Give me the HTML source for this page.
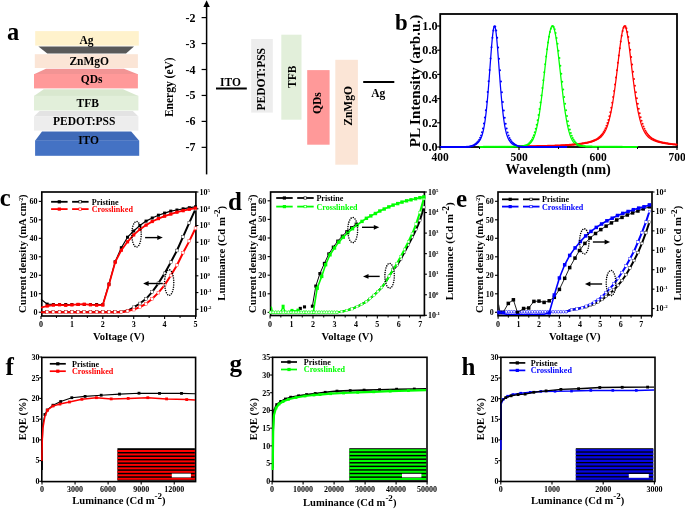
<!DOCTYPE html>
<html><head><meta charset="utf-8"><style>
html,body{margin:0;padding:0;background:#fff;width:685px;height:509px;overflow:hidden}
svg{display:block;will-change:transform}
text{font-family:"Liberation Serif",serif;font-weight:bold}
</style></head><body>
<svg width="685" height="509" viewBox="0 0 685 509">
<rect width="685" height="509" fill="#fff"/>
<text x="7.00" y="39.60" font-size="24.5" text-anchor="start" fill="#000" >a</text>
<rect x="35.20" y="31.10" width="103.60" height="14.50" fill="#FFF2CC" />
<polygon points="38.40,46.40 134.00,46.40 126.00,53.60 47.30,53.60" fill="#595959" />
<rect x="34.80" y="54.20" width="103.10" height="13.80" fill="#FBE5D6" />
<polygon points="46.00,68.70 124.00,68.70 137.90,74.30 34.00,74.30" fill="#F29494" />
<rect x="34.00" y="74.00" width="103.90" height="14.40" fill="#FF9999" />
<polygon points="43.70,89.30 123.00,89.30 138.40,96.00 34.00,96.00" fill="#D9E8CF" />
<rect x="34.00" y="95.80" width="104.40" height="14.70" fill="#E2EFDA" />
<polygon points="39.60,111.00 132.80,111.00 138.40,116.60 34.00,116.60" fill="#E3E3E3" />
<rect x="34.00" y="116.40" width="104.40" height="14.20" fill="#EDEDED" />
<polygon points="42.00,131.40 131.20,131.40 139.20,140.70 35.10,140.70" fill="#3F6AB8" />
<rect x="35.10" y="140.50" width="104.10" height="15.30" fill="#4472C4" />
<text x="86.50" y="43.80" font-size="11.5" text-anchor="middle" fill="#000" >Ag</text>
<text x="89.20" y="65.10" font-size="11.5" text-anchor="middle" fill="#000" >ZnMgO</text>
<text x="91.70" y="83.10" font-size="11.5" text-anchor="middle" fill="#000" >QDs</text>
<text x="87.80" y="106.50" font-size="11.5" text-anchor="middle" fill="#000" >TFB</text>
<text x="84.20" y="124.60" font-size="11.5" text-anchor="middle" fill="#000" >PEDOT:PSS</text>
<text x="88.60" y="144.30" font-size="11.5" text-anchor="middle" fill="#000" >ITO</text>
<line x1="206.60" y1="4.00" x2="206.60" y2="174.40" stroke="#000" stroke-width="1.5" />
<polygon points="206.60,0.30 203.40,7.00 209.80,7.00" fill="#000" />
<line x1="201.60" y1="17.60" x2="206.60" y2="17.60" stroke="#000" stroke-width="1.2" />
<text x="195.40" y="21.60" font-size="12" text-anchor="end" fill="#000" >-2</text>
<line x1="201.60" y1="43.55" x2="206.60" y2="43.55" stroke="#000" stroke-width="1.2" />
<text x="195.40" y="47.55" font-size="12" text-anchor="end" fill="#000" >-3</text>
<line x1="201.60" y1="69.50" x2="206.60" y2="69.50" stroke="#000" stroke-width="1.2" />
<text x="195.40" y="73.50" font-size="12" text-anchor="end" fill="#000" >-4</text>
<line x1="201.60" y1="95.45" x2="206.60" y2="95.45" stroke="#000" stroke-width="1.2" />
<text x="195.40" y="99.45" font-size="12" text-anchor="end" fill="#000" >-5</text>
<line x1="201.60" y1="121.40" x2="206.60" y2="121.40" stroke="#000" stroke-width="1.2" />
<text x="195.40" y="125.40" font-size="12" text-anchor="end" fill="#000" >-6</text>
<line x1="201.60" y1="147.35" x2="206.60" y2="147.35" stroke="#000" stroke-width="1.2" />
<text x="195.40" y="151.35" font-size="12" text-anchor="end" fill="#000" >-7</text>
<text x="172.80" y="87.20" font-size="11.5" text-anchor="middle" fill="#000" transform="rotate(-90 172.8 87.2)" >Energy (eV)</text>
<line x1="216.00" y1="88.50" x2="246.80" y2="88.50" stroke="#000" stroke-width="2" />
<text x="230.40" y="86.20" font-size="11.5" text-anchor="middle" fill="#000" >ITO</text>
<rect x="251.20" y="39.00" width="21.60" height="73.60" fill="#EDEDED" />
<rect x="281.30" y="34.70" width="20.20" height="85.00" fill="#E2EFDA" />
<rect x="307.20" y="70.10" width="22.40" height="74.60" fill="#FF9999" />
<rect x="335.30" y="59.80" width="22.60" height="104.90" fill="#FBE5D6" />
<text x="265.00" y="79.20" font-size="11.5" text-anchor="middle" fill="#000" transform="rotate(-90 265.0 79.2)" >PEDOT:PSS</text>
<text x="295.60" y="76.70" font-size="11.5" text-anchor="middle" fill="#000" transform="rotate(-90 295.6 76.7)" >TFB</text>
<text x="320.80" y="103.10" font-size="11.5" text-anchor="middle" fill="#000" transform="rotate(-90 320.8 103.1)" >QDs</text>
<text x="351.60" y="105.90" font-size="11.5" text-anchor="middle" fill="#000" transform="rotate(-90 351.6 105.9)" >ZnMgO</text>
<line x1="363.20" y1="82.00" x2="394.30" y2="82.00" stroke="#000" stroke-width="2" />
<text x="378.20" y="97.20" font-size="11.5" text-anchor="middle" fill="#000" >Ag</text>
<rect x="440.20" y="14.00" width="236.80" height="133.00" fill="none" stroke="#000" stroke-width="1.8"/>
<polyline points="519.00,146.47 519.50,146.46 520.00,146.46 520.50,146.45 521.00,146.45 521.50,146.44 522.00,146.43 522.50,146.43 523.00,146.42 523.50,146.42 524.00,146.41 524.50,146.41 525.00,146.40 525.50,146.39 526.00,146.39 526.50,146.38 527.00,146.38 527.50,146.37 528.00,146.36 528.50,146.36 529.00,146.35 529.50,146.34 530.00,146.34 530.50,146.33 531.00,146.32 531.50,146.31 532.00,146.31 532.50,146.30 533.00,146.29 533.50,146.28 534.00,146.28 534.50,146.27 535.00,146.26 535.50,146.25 536.00,146.24 536.50,146.24 537.00,146.23 537.50,146.22 538.00,146.21 538.50,146.20 539.00,146.19 539.50,146.18 540.00,146.17 540.50,146.16 541.00,146.15 541.50,146.14 542.00,146.13 542.50,146.12 543.00,146.11 543.50,146.10 544.00,146.09 544.50,146.08 545.00,146.07 545.50,146.05 546.00,146.04 546.50,146.03 547.00,146.02 547.50,146.00 548.00,145.99 548.50,145.98 549.00,145.97 549.50,145.95 550.00,145.94 550.50,145.92 551.00,145.91 551.50,145.89 552.00,145.88 552.50,145.86 553.00,145.85 553.50,145.83 554.00,145.82 554.50,145.80 555.00,145.78 555.50,145.77 556.00,145.75 556.50,145.73 557.00,145.71 557.50,145.69 558.00,145.67 558.50,145.65 559.00,145.63 559.50,145.61 560.00,145.59 560.50,145.57 561.00,145.55 561.50,145.52 562.00,145.50 562.50,145.48 563.00,145.45 563.50,145.43 564.00,145.40 564.50,145.38 565.00,145.35 565.50,145.32 566.00,145.30 566.50,145.27 567.00,145.24 567.50,145.21 568.00,145.18 568.50,145.14 569.00,145.11 569.50,145.08 570.00,145.04 570.50,145.01 571.00,144.97 571.50,144.94 572.00,144.90 572.50,144.86 573.00,144.82 573.50,144.78 574.00,144.73 574.50,144.69 575.00,144.65 575.50,144.60 576.00,144.55 576.50,144.50 577.00,144.45 577.50,144.40 578.00,144.34 578.50,144.29 579.00,144.23 579.50,144.17 580.00,144.11 580.50,144.05 581.00,143.98 581.50,143.92 582.00,143.85 582.50,143.78 583.00,143.70 583.50,143.62 584.00,143.55 584.50,143.46 585.00,143.38 585.50,143.29 586.00,143.20 586.50,143.10 587.00,143.01 587.50,142.90 588.00,142.80 588.50,142.69 589.00,142.57 589.50,142.45 590.00,142.33 590.50,142.20 591.00,142.06 591.50,141.92 592.00,141.78 592.50,141.62 593.00,141.46 593.50,141.29 594.00,141.11 594.50,140.92 595.00,140.72 595.50,140.51 596.00,140.29 596.50,140.05 597.00,139.79 597.50,139.52 598.00,139.23 598.50,138.92 599.00,138.59 599.50,138.23 600.00,137.84 600.50,137.42 601.00,136.96 601.50,136.47 602.00,135.93 602.50,135.34 603.00,134.70 603.50,134.00 604.00,133.24 604.50,132.40 605.00,131.49 605.50,130.50 606.00,129.41 606.50,128.23 607.00,126.94 607.50,125.54 608.00,124.02 608.50,122.38 609.00,120.60 609.50,118.68 610.00,116.61 610.50,114.40 611.00,112.02 611.50,109.49 612.00,106.79 612.50,103.93 613.00,100.91 613.50,97.73 614.00,94.38 614.50,90.89 615.00,87.24 615.50,83.47 616.00,79.57 616.50,75.57 617.00,71.48 617.50,67.33 618.00,63.15 618.50,58.96 619.00,54.82 619.50,50.75 620.00,46.81 620.50,43.04 621.00,39.52 621.50,36.28 622.00,33.39 622.50,30.91 623.00,28.90 623.50,27.38 624.00,26.41 624.50,26.01 625.00,26.18 625.50,26.93 626.00,28.23 626.50,30.05 627.00,32.35 627.50,35.08 628.00,38.18 628.50,41.60 629.00,45.28 629.50,49.15 630.00,53.18 630.50,57.30 631.00,61.47 631.50,65.66 632.00,69.83 632.50,73.94 633.00,77.98 633.50,81.92 634.00,85.75 634.50,89.45 635.00,93.00 635.50,96.41 636.00,99.66 636.50,102.75 637.00,105.67 637.50,108.43 638.00,111.03 638.50,113.46 639.00,115.74 639.50,117.87 640.00,119.85 640.50,121.68 641.00,123.38 641.50,124.95 642.00,126.39 642.50,127.73 643.00,128.95 643.50,130.07 644.00,131.10 644.50,132.05 645.00,132.91 645.50,133.70 646.00,134.43 646.50,135.09 647.00,135.70 647.50,136.26 648.00,136.77 648.50,137.24 649.00,137.68 649.50,138.08 650.00,138.45 650.50,138.79 651.00,139.11 651.50,139.41 652.00,139.69 652.50,139.95 653.00,140.19 653.50,140.42 654.00,140.64 654.50,140.84 655.00,141.03 655.50,141.22 656.00,141.39 656.50,141.56 657.00,141.71 657.50,141.86 658.00,142.01 658.50,142.15 659.00,142.28 659.50,142.40 660.00,142.53 660.50,142.64 661.00,142.75 661.50,142.86 662.00,142.97 662.50,143.06 663.00,143.16 663.50,143.25 664.00,143.34 664.50,143.43 665.00,143.51 665.50,143.59 666.00,143.67 666.50,143.75 667.00,143.82 667.50,143.89 668.00,143.96 668.50,144.02 669.00,144.09 669.50,144.15 670.00,144.21 670.50,144.27 671.00,144.32 671.50,144.38 672.00,144.43 672.50,144.48 673.00,144.53 673.50,144.58 674.00,144.63 674.50,144.67 675.00,144.72 675.50,144.76 676.00,144.80 676.50,144.84 677.00,144.88" fill="none" stroke="#FF0000" stroke-width="1.25" stroke-linejoin="round" />
<polyline points="479.50,146.90 480.00,146.90 480.50,146.90 481.00,146.89 481.50,146.89 482.00,146.89 482.50,146.89 483.00,146.89 483.50,146.89 484.00,146.89 484.50,146.88 485.00,146.88 485.50,146.88 486.00,146.88 486.50,146.88 487.00,146.87 487.50,146.87 488.00,146.87 488.50,146.87 489.00,146.87 489.50,146.87 490.00,146.86 490.50,146.86 491.00,146.86 491.50,146.86 492.00,146.85 492.50,146.85 493.00,146.85 493.50,146.85 494.00,146.84 494.50,146.84 495.00,146.84 495.50,146.84 496.00,146.83 496.50,146.83 497.00,146.83 497.50,146.82 498.00,146.82 498.50,146.82 499.00,146.81 499.50,146.81 500.00,146.81 500.50,146.80 501.00,146.80 501.50,146.80 502.00,146.79 502.50,146.79 503.00,146.78 503.50,146.78 504.00,146.78 504.50,146.77 505.00,146.77 505.50,146.76 506.00,146.76 506.50,146.75 507.00,146.75 507.50,146.74 508.00,146.74 508.50,146.73 509.00,146.72 509.50,146.72 510.00,146.71 510.50,146.70 511.00,146.70 511.50,146.69 512.00,146.68 512.50,146.67 513.00,146.67 513.50,146.66 514.00,146.65 514.50,146.64 515.00,146.63 515.50,146.62 516.00,146.61 516.50,146.60 517.00,146.59 517.50,146.57 518.00,146.56 518.50,146.54 519.00,146.53 519.50,146.51 520.00,146.48 520.50,146.46 521.00,146.43 521.50,146.40 522.00,146.37 522.50,146.33 523.00,146.28 523.50,146.22 524.00,146.16 524.50,146.08 525.00,145.99 525.50,145.89 526.00,145.76 526.50,145.62 527.00,145.45 527.50,145.25 528.00,145.02 528.50,144.74 529.00,144.43 529.50,144.06 530.00,143.64 530.50,143.15 531.00,142.59 531.50,141.95 532.00,141.22 532.50,140.39 533.00,139.44 533.50,138.38 534.00,137.19 534.50,135.86 535.00,134.37 535.50,132.73 536.00,130.91 536.50,128.92 537.00,126.73 537.50,124.36 538.00,121.78 538.50,119.01 539.00,116.03 539.50,112.85 540.00,109.47 540.50,105.90 541.00,102.15 541.50,98.23 542.00,94.16 542.50,89.95 543.00,85.63 543.50,81.22 544.00,76.75 544.50,72.25 545.00,67.75 545.50,63.29 546.00,58.91 546.50,54.65 547.00,50.54 547.50,46.63 548.00,42.95 548.50,39.55 549.00,36.45 549.50,33.71 550.00,31.34 550.50,29.38 551.00,27.85 551.50,26.77 552.00,26.15 552.50,26.01 553.00,26.34 553.50,27.14 554.00,28.40 554.50,30.11 555.00,32.24 555.50,34.76 556.00,37.65 556.50,40.87 557.00,44.39 557.50,48.17 558.00,52.16 558.50,56.34 559.00,60.65 559.50,65.07 560.00,69.55 560.50,74.05 561.00,78.54 561.50,82.99 562.00,87.37 562.50,91.65 563.00,95.81 563.50,99.82 564.00,103.68 564.50,107.35 565.00,110.85 565.50,114.15 566.00,117.25 566.50,120.14 567.00,122.84 567.50,125.33 568.00,127.63 568.50,129.74 569.00,131.66 569.50,133.41 570.00,134.99 570.50,136.41 571.00,137.68 571.50,138.82 572.00,139.84 572.50,140.73 573.00,141.52 573.50,142.22 574.00,142.83 574.50,143.36 575.00,143.82 575.50,144.22 576.00,144.56 576.50,144.86 577.00,145.11 577.50,145.33 578.00,145.52 578.50,145.68 579.00,145.81 579.50,145.93 580.00,146.03 580.50,146.11 581.00,146.18 581.50,146.25 582.00,146.30 582.50,146.34 583.00,146.38 583.50,146.42 584.00,146.44 584.50,146.47 585.00,146.49 585.50,146.51 586.00,146.53 586.50,146.55 587.00,146.56 587.50,146.58 588.00,146.59 588.50,146.60 589.00,146.61 589.50,146.62 590.00,146.63 590.50,146.64 591.00,146.65 591.50,146.66 592.00,146.67 592.50,146.68 593.00,146.69 593.50,146.69 594.00,146.70 594.50,146.71 595.00,146.71 595.50,146.72 596.00,146.73 596.50,146.73 597.00,146.74 597.50,146.74 598.00,146.75 598.50,146.75 599.00,146.76 599.50,146.76 600.00,146.77 600.50,146.77 601.00,146.78 601.50,146.78 602.00,146.79 602.50,146.79 603.00,146.79 603.50,146.80 604.00,146.80 604.50,146.81 605.00,146.81 605.50,146.81 606.00,146.82 606.50,146.82 607.00,146.82 607.50,146.83 608.00,146.83 608.50,146.83 609.00,146.83 609.50,146.84 610.00,146.84 610.50,146.84 611.00,146.85 611.50,146.85 612.00,146.85 612.50,146.85 613.00,146.85 613.50,146.86 614.00,146.86 614.50,146.86 615.00,146.86 615.50,146.87 616.00,146.87 616.50,146.87 617.00,146.87 617.50,146.87 618.00,146.88 618.50,146.88 619.00,146.88 619.50,146.88 620.00,146.88 620.50,146.88 621.00,146.89 621.50,146.89 622.00,146.89 622.50,146.89 623.00,146.89 623.50,146.89 624.00,146.90 624.50,146.90 625.00,146.90 625.50,146.90 626.00,146.90 626.50,146.90 627.00,146.90 627.50,146.90 628.00,146.91 628.50,146.91 629.00,146.91 629.50,146.91 630.00,146.91 630.50,146.91 631.00,146.91 631.50,146.91 632.00,146.92 632.50,146.92 633.00,146.92 633.50,146.92 634.00,146.92 634.50,146.92 635.00,146.92 635.50,146.92 636.00,146.92 636.50,146.92 637.00,146.92 637.50,146.93" fill="none" stroke="#00FF00" stroke-width="1.25" stroke-linejoin="round" />
<polyline points="440.00,147.00 440.50,147.00 441.00,147.00 441.50,147.00 442.01,147.00 442.51,147.00 443.01,147.00 443.51,147.00 444.01,147.00 444.51,147.00 445.02,147.00 445.52,147.00 446.02,147.00 446.52,147.00 447.02,147.00 447.52,147.00 448.03,147.00 448.53,147.00 449.03,147.00 449.53,147.00 450.03,147.00 450.53,147.00 451.03,147.00 451.54,147.00 452.04,147.00 452.54,147.00 453.04,147.00 453.54,147.00 454.04,147.00 454.55,147.00 455.05,147.00 455.55,147.00 456.05,147.00 456.55,147.00 457.05,147.00 457.56,147.00 458.06,147.00 458.56,147.00 459.06,147.00 459.56,147.00 460.06,147.00 460.57,147.00 461.07,147.00 461.57,147.00 462.07,147.00 462.57,147.00 463.07,147.00 463.57,146.99 464.08,146.99 464.58,146.99 465.08,146.98 465.58,146.97 466.08,146.96 466.58,146.95 467.09,146.93 467.59,146.90 468.09,146.87 468.59,146.83 469.09,146.79 469.59,146.73 470.10,146.66 470.60,146.58 471.10,146.48 471.60,146.37 472.10,146.24 472.60,146.09 473.10,145.93 473.61,145.73 474.11,145.52 474.61,145.28 475.11,145.01 475.61,144.72 476.11,144.39 476.62,144.02 477.12,143.61 477.62,143.16 478.12,142.65 478.62,142.08 479.12,141.43 479.63,140.70 480.13,139.86 480.63,138.89 481.13,137.78 481.63,136.50 482.13,135.01 482.63,133.29 483.14,131.31 483.64,129.04 484.14,126.43 484.64,123.47 485.14,120.12 485.64,116.37 486.15,112.19 486.65,107.57 487.15,102.53 487.65,97.08 488.15,91.24 488.65,85.06 489.16,78.59 489.66,71.92 490.16,65.15 490.66,58.39 491.16,51.79 491.66,45.54 492.17,39.81 492.67,34.83 493.17,30.79 493.67,27.90 494.17,26.30 494.67,26.08 495.17,27.26 495.68,29.77 496.18,33.47 496.68,38.18 497.18,43.70 497.68,49.81 498.18,56.32 498.69,63.04 499.19,69.83 499.69,76.54 500.19,83.08 500.69,89.36 501.19,95.31 501.70,100.89 502.20,106.06 502.70,110.80 503.20,115.12 503.70,119.00 504.20,122.48 504.70,125.56 505.21,128.27 505.71,130.64 506.21,132.71 506.71,134.50 507.21,136.06 507.71,137.40 508.22,138.56 508.72,139.57 509.22,140.45 509.72,141.21 510.22,141.89 510.72,142.48 511.23,143.01 511.73,143.48 512.23,143.90 512.73,144.28 513.23,144.62 513.73,144.92 514.23,145.20 514.74,145.45 515.24,145.67 515.74,145.87 516.24,146.04 516.74,146.20 517.24,146.33 517.75,146.45 518.25,146.55 518.75,146.64 519.25,146.71 519.75,146.77 520.25,146.82 520.76,146.86 521.26,146.89 521.76,146.92 522.26,146.94 522.76,146.96 523.26,146.97 523.77,146.98 524.27,146.98 524.77,146.99 525.27,146.99 525.77,147.00 526.27,147.00 526.77,147.00 527.28,147.00 527.78,147.00 528.28,147.00 528.78,147.00 529.28,147.00 529.78,147.00 530.29,147.00 530.79,147.00 531.29,147.00 531.79,147.00 532.29,147.00 532.79,147.00 533.30,147.00 533.80,147.00 534.30,147.00 534.80,147.00 535.30,147.00 535.80,147.00 536.30,147.00 536.81,147.00 537.31,147.00 537.81,147.00 538.31,147.00 538.81,147.00 539.31,147.00 539.82,147.00 540.32,147.00 540.82,147.00 541.32,147.00 541.82,147.00 542.32,147.00 542.83,147.00 543.33,147.00 543.83,147.00 544.33,147.00 544.83,147.00 545.33,147.00 545.83,147.00 546.34,147.00 546.84,147.00 547.34,147.00 547.84,147.00 548.34,147.00 548.84,147.00 549.35,147.00 549.85,147.00 550.35,147.00 550.85,147.00 551.35,147.00 551.85,147.00 552.36,147.00 552.86,147.00 553.36,147.00 553.86,147.00 554.36,147.00 554.86,147.00 555.37,147.00 555.87,147.00 556.37,147.00 556.87,147.00 557.37,147.00 557.87,147.00 558.37,147.00 558.88,147.00 559.38,147.00 559.88,147.00 560.38,147.00 560.88,147.00 561.38,147.00 561.89,147.00 562.39,147.00 562.89,147.00 563.39,147.00 563.89,147.00 564.39,147.00 564.90,147.00 565.40,147.00 565.90,147.00 566.40,147.00" fill="none" stroke="#0000FF" stroke-width="1.25" stroke-linejoin="round" />
<circle cx="519.30" cy="146.39" r="1.0" fill="#FF0000"/>
<circle cx="520.25" cy="146.38" r="1.0" fill="#FF0000"/>
<circle cx="521.20" cy="146.37" r="1.0" fill="#FF0000"/>
<circle cx="522.14" cy="146.36" r="1.0" fill="#FF0000"/>
<circle cx="523.09" cy="146.35" r="1.0" fill="#FF0000"/>
<circle cx="524.04" cy="146.33" r="1.0" fill="#FF0000"/>
<circle cx="524.99" cy="146.32" r="1.0" fill="#FF0000"/>
<circle cx="525.94" cy="146.31" r="1.0" fill="#FF0000"/>
<circle cx="526.88" cy="146.29" r="1.0" fill="#FF0000"/>
<circle cx="527.83" cy="146.28" r="1.0" fill="#FF0000"/>
<circle cx="528.78" cy="146.27" r="1.0" fill="#FF0000"/>
<circle cx="529.73" cy="146.25" r="1.0" fill="#FF0000"/>
<circle cx="530.68" cy="146.24" r="1.0" fill="#FF0000"/>
<circle cx="531.62" cy="146.22" r="1.0" fill="#FF0000"/>
<circle cx="532.57" cy="146.21" r="1.0" fill="#FF0000"/>
<circle cx="533.52" cy="146.19" r="1.0" fill="#FF0000"/>
<circle cx="534.47" cy="146.17" r="1.0" fill="#FF0000"/>
<circle cx="535.42" cy="146.15" r="1.0" fill="#FF0000"/>
<circle cx="536.36" cy="146.14" r="1.0" fill="#FF0000"/>
<circle cx="537.31" cy="146.12" r="1.0" fill="#FF0000"/>
<circle cx="538.26" cy="146.10" r="1.0" fill="#FF0000"/>
<circle cx="539.21" cy="146.08" r="1.0" fill="#FF0000"/>
<circle cx="540.16" cy="146.06" r="1.0" fill="#FF0000"/>
<circle cx="541.10" cy="146.04" r="1.0" fill="#FF0000"/>
<circle cx="542.05" cy="146.02" r="1.0" fill="#FF0000"/>
<circle cx="543.00" cy="145.99" r="1.0" fill="#FF0000"/>
<circle cx="543.95" cy="145.97" r="1.0" fill="#FF0000"/>
<circle cx="544.90" cy="145.95" r="1.0" fill="#FF0000"/>
<circle cx="545.84" cy="145.92" r="1.0" fill="#FF0000"/>
<circle cx="546.79" cy="145.89" r="1.0" fill="#FF0000"/>
<circle cx="547.74" cy="145.87" r="1.0" fill="#FF0000"/>
<circle cx="548.69" cy="145.84" r="1.0" fill="#FF0000"/>
<circle cx="549.64" cy="145.81" r="1.0" fill="#FF0000"/>
<circle cx="550.58" cy="145.78" r="1.0" fill="#FF0000"/>
<circle cx="551.53" cy="145.75" r="1.0" fill="#FF0000"/>
<circle cx="552.48" cy="145.72" r="1.0" fill="#FF0000"/>
<circle cx="553.43" cy="145.68" r="1.0" fill="#FF0000"/>
<circle cx="554.38" cy="145.65" r="1.0" fill="#FF0000"/>
<circle cx="555.32" cy="145.61" r="1.0" fill="#FF0000"/>
<circle cx="556.27" cy="145.58" r="1.0" fill="#FF0000"/>
<circle cx="557.22" cy="145.54" r="1.0" fill="#FF0000"/>
<circle cx="558.17" cy="145.50" r="1.0" fill="#FF0000"/>
<circle cx="559.12" cy="145.45" r="1.0" fill="#FF0000"/>
<circle cx="560.06" cy="145.41" r="1.0" fill="#FF0000"/>
<circle cx="561.01" cy="145.36" r="1.0" fill="#FF0000"/>
<circle cx="561.96" cy="145.31" r="1.0" fill="#FF0000"/>
<circle cx="562.91" cy="145.26" r="1.0" fill="#FF0000"/>
<circle cx="563.86" cy="145.21" r="1.0" fill="#FF0000"/>
<circle cx="564.80" cy="145.15" r="1.0" fill="#FF0000"/>
<circle cx="565.75" cy="145.10" r="1.0" fill="#FF0000"/>
<circle cx="566.70" cy="145.04" r="1.0" fill="#FF0000"/>
<circle cx="567.65" cy="144.97" r="1.0" fill="#FF0000"/>
<circle cx="568.60" cy="144.91" r="1.0" fill="#FF0000"/>
<circle cx="569.54" cy="144.84" r="1.0" fill="#FF0000"/>
<circle cx="570.49" cy="144.76" r="1.0" fill="#FF0000"/>
<circle cx="571.44" cy="144.68" r="1.0" fill="#FF0000"/>
<circle cx="572.39" cy="144.60" r="1.0" fill="#FF0000"/>
<circle cx="573.34" cy="144.52" r="1.0" fill="#FF0000"/>
<circle cx="574.28" cy="144.43" r="1.0" fill="#FF0000"/>
<circle cx="575.23" cy="144.33" r="1.0" fill="#FF0000"/>
<circle cx="576.18" cy="144.23" r="1.0" fill="#FF0000"/>
<circle cx="577.13" cy="144.13" r="1.0" fill="#FF0000"/>
<circle cx="578.08" cy="144.01" r="1.0" fill="#FF0000"/>
<circle cx="579.02" cy="143.89" r="1.0" fill="#FF0000"/>
<circle cx="579.97" cy="143.77" r="1.0" fill="#FF0000"/>
<circle cx="580.92" cy="143.63" r="1.0" fill="#FF0000"/>
<circle cx="581.87" cy="143.49" r="1.0" fill="#FF0000"/>
<circle cx="582.82" cy="143.34" r="1.0" fill="#FF0000"/>
<circle cx="583.76" cy="143.18" r="1.0" fill="#FF0000"/>
<circle cx="584.71" cy="143.01" r="1.0" fill="#FF0000"/>
<circle cx="585.66" cy="142.82" r="1.0" fill="#FF0000"/>
<circle cx="586.61" cy="142.63" r="1.0" fill="#FF0000"/>
<circle cx="587.56" cy="142.42" r="1.0" fill="#FF0000"/>
<circle cx="588.50" cy="142.19" r="1.0" fill="#FF0000"/>
<circle cx="589.45" cy="141.95" r="1.0" fill="#FF0000"/>
<circle cx="590.40" cy="141.68" r="1.0" fill="#FF0000"/>
<circle cx="591.35" cy="141.39" r="1.0" fill="#FF0000"/>
<circle cx="592.30" cy="141.08" r="1.0" fill="#FF0000"/>
<circle cx="593.24" cy="140.73" r="1.0" fill="#FF0000"/>
<circle cx="594.19" cy="140.35" r="1.0" fill="#FF0000"/>
<circle cx="595.14" cy="139.92" r="1.0" fill="#FF0000"/>
<circle cx="596.09" cy="139.45" r="1.0" fill="#FF0000"/>
<circle cx="597.04" cy="138.91" r="1.0" fill="#FF0000"/>
<circle cx="597.98" cy="138.30" r="1.0" fill="#FF0000"/>
<circle cx="598.93" cy="137.60" r="1.0" fill="#FF0000"/>
<circle cx="599.88" cy="136.79" r="1.0" fill="#FF0000"/>
<circle cx="600.83" cy="135.85" r="1.0" fill="#FF0000"/>
<circle cx="601.78" cy="134.76" r="1.0" fill="#FF0000"/>
<circle cx="602.72" cy="133.48" r="1.0" fill="#FF0000"/>
<circle cx="603.67" cy="131.99" r="1.0" fill="#FF0000"/>
<circle cx="604.62" cy="130.25" r="1.0" fill="#FF0000"/>
<circle cx="605.57" cy="128.21" r="1.0" fill="#FF0000"/>
<circle cx="606.52" cy="125.85" r="1.0" fill="#FF0000"/>
<circle cx="607.46" cy="123.11" r="1.0" fill="#FF0000"/>
<circle cx="608.41" cy="119.97" r="1.0" fill="#FF0000"/>
<circle cx="609.36" cy="116.37" r="1.0" fill="#FF0000"/>
<circle cx="610.31" cy="112.30" r="1.0" fill="#FF0000"/>
<circle cx="611.26" cy="107.73" r="1.0" fill="#FF0000"/>
<circle cx="612.20" cy="102.64" r="1.0" fill="#FF0000"/>
<circle cx="613.15" cy="97.04" r="1.0" fill="#FF0000"/>
<circle cx="614.10" cy="90.95" r="1.0" fill="#FF0000"/>
<circle cx="615.05" cy="84.39" r="1.0" fill="#FF0000"/>
<circle cx="616.00" cy="77.45" r="1.0" fill="#FF0000"/>
<circle cx="616.94" cy="70.21" r="1.0" fill="#FF0000"/>
<circle cx="617.89" cy="62.81" r="1.0" fill="#FF0000"/>
<circle cx="618.84" cy="55.41" r="1.0" fill="#FF0000"/>
<circle cx="619.79" cy="48.24" r="1.0" fill="#FF0000"/>
<circle cx="620.74" cy="41.58" r="1.0" fill="#FF0000"/>
<circle cx="621.68" cy="35.73" r="1.0" fill="#FF0000"/>
<circle cx="622.63" cy="31.02" r="1.0" fill="#FF0000"/>
<circle cx="623.58" cy="27.74" r="1.0" fill="#FF0000"/>
<circle cx="624.53" cy="26.14" r="1.0" fill="#FF0000"/>
<circle cx="625.48" cy="26.34" r="1.0" fill="#FF0000"/>
<circle cx="626.42" cy="28.31" r="1.0" fill="#FF0000"/>
<circle cx="627.37" cy="31.92" r="1.0" fill="#FF0000"/>
<circle cx="628.32" cy="36.91" r="1.0" fill="#FF0000"/>
<circle cx="629.27" cy="42.96" r="1.0" fill="#FF0000"/>
<circle cx="630.22" cy="49.75" r="1.0" fill="#FF0000"/>
<circle cx="631.16" cy="56.99" r="1.0" fill="#FF0000"/>
<circle cx="632.11" cy="64.40" r="1.0" fill="#FF0000"/>
<circle cx="633.06" cy="71.79" r="1.0" fill="#FF0000"/>
<circle cx="634.01" cy="78.97" r="1.0" fill="#FF0000"/>
<circle cx="634.96" cy="85.84" r="1.0" fill="#FF0000"/>
<circle cx="635.90" cy="92.30" r="1.0" fill="#FF0000"/>
<circle cx="636.85" cy="98.29" r="1.0" fill="#FF0000"/>
<circle cx="637.80" cy="103.78" r="1.0" fill="#FF0000"/>
<circle cx="638.75" cy="108.76" r="1.0" fill="#FF0000"/>
<circle cx="639.70" cy="113.22" r="1.0" fill="#FF0000"/>
<circle cx="640.64" cy="117.19" r="1.0" fill="#FF0000"/>
<circle cx="641.59" cy="120.68" r="1.0" fill="#FF0000"/>
<circle cx="642.54" cy="123.74" r="1.0" fill="#FF0000"/>
<circle cx="643.49" cy="126.39" r="1.0" fill="#FF0000"/>
<circle cx="644.44" cy="128.68" r="1.0" fill="#FF0000"/>
<circle cx="645.38" cy="130.65" r="1.0" fill="#FF0000"/>
<circle cx="646.33" cy="132.33" r="1.0" fill="#FF0000"/>
<circle cx="647.28" cy="133.77" r="1.0" fill="#FF0000"/>
<circle cx="648.23" cy="135.01" r="1.0" fill="#FF0000"/>
<circle cx="649.18" cy="136.06" r="1.0" fill="#FF0000"/>
<circle cx="650.12" cy="136.97" r="1.0" fill="#FF0000"/>
<circle cx="651.07" cy="137.76" r="1.0" fill="#FF0000"/>
<circle cx="652.02" cy="138.44" r="1.0" fill="#FF0000"/>
<circle cx="652.97" cy="139.03" r="1.0" fill="#FF0000"/>
<circle cx="653.92" cy="139.56" r="1.0" fill="#FF0000"/>
<circle cx="654.86" cy="140.02" r="1.0" fill="#FF0000"/>
<circle cx="655.81" cy="140.44" r="1.0" fill="#FF0000"/>
<circle cx="656.76" cy="140.81" r="1.0" fill="#FF0000"/>
<circle cx="657.71" cy="141.15" r="1.0" fill="#FF0000"/>
<circle cx="658.66" cy="141.46" r="1.0" fill="#FF0000"/>
<circle cx="659.60" cy="141.74" r="1.0" fill="#FF0000"/>
<circle cx="660.55" cy="142.00" r="1.0" fill="#FF0000"/>
<circle cx="661.50" cy="142.24" r="1.0" fill="#FF0000"/>
<circle cx="662.45" cy="142.46" r="1.0" fill="#FF0000"/>
<circle cx="663.40" cy="142.67" r="1.0" fill="#FF0000"/>
<circle cx="664.34" cy="142.87" r="1.0" fill="#FF0000"/>
<circle cx="665.29" cy="143.05" r="1.0" fill="#FF0000"/>
<circle cx="666.24" cy="143.22" r="1.0" fill="#FF0000"/>
<circle cx="667.19" cy="143.37" r="1.0" fill="#FF0000"/>
<circle cx="668.14" cy="143.52" r="1.0" fill="#FF0000"/>
<circle cx="669.08" cy="143.66" r="1.0" fill="#FF0000"/>
<circle cx="670.03" cy="143.80" r="1.0" fill="#FF0000"/>
<circle cx="670.98" cy="143.92" r="1.0" fill="#FF0000"/>
<circle cx="671.93" cy="144.04" r="1.0" fill="#FF0000"/>
<circle cx="672.88" cy="144.15" r="1.0" fill="#FF0000"/>
<circle cx="673.82" cy="144.25" r="1.0" fill="#FF0000"/>
<circle cx="674.77" cy="144.35" r="1.0" fill="#FF0000"/>
<circle cx="675.72" cy="144.45" r="1.0" fill="#FF0000"/>
<circle cx="676.67" cy="144.54" r="1.0" fill="#FF0000"/>
<circle cx="479.80" cy="146.88" r="1.0" fill="#00FF00"/>
<circle cx="480.75" cy="146.88" r="1.0" fill="#00FF00"/>
<circle cx="481.70" cy="146.88" r="1.0" fill="#00FF00"/>
<circle cx="482.64" cy="146.88" r="1.0" fill="#00FF00"/>
<circle cx="483.59" cy="146.87" r="1.0" fill="#00FF00"/>
<circle cx="484.54" cy="146.87" r="1.0" fill="#00FF00"/>
<circle cx="485.49" cy="146.87" r="1.0" fill="#00FF00"/>
<circle cx="486.44" cy="146.86" r="1.0" fill="#00FF00"/>
<circle cx="487.38" cy="146.86" r="1.0" fill="#00FF00"/>
<circle cx="488.33" cy="146.85" r="1.0" fill="#00FF00"/>
<circle cx="489.28" cy="146.85" r="1.0" fill="#00FF00"/>
<circle cx="490.23" cy="146.84" r="1.0" fill="#00FF00"/>
<circle cx="491.18" cy="146.84" r="1.0" fill="#00FF00"/>
<circle cx="492.12" cy="146.83" r="1.0" fill="#00FF00"/>
<circle cx="493.07" cy="146.83" r="1.0" fill="#00FF00"/>
<circle cx="494.02" cy="146.82" r="1.0" fill="#00FF00"/>
<circle cx="494.97" cy="146.82" r="1.0" fill="#00FF00"/>
<circle cx="495.92" cy="146.81" r="1.0" fill="#00FF00"/>
<circle cx="496.86" cy="146.81" r="1.0" fill="#00FF00"/>
<circle cx="497.81" cy="146.80" r="1.0" fill="#00FF00"/>
<circle cx="498.76" cy="146.79" r="1.0" fill="#00FF00"/>
<circle cx="499.71" cy="146.79" r="1.0" fill="#00FF00"/>
<circle cx="500.66" cy="146.78" r="1.0" fill="#00FF00"/>
<circle cx="501.60" cy="146.77" r="1.0" fill="#00FF00"/>
<circle cx="502.55" cy="146.76" r="1.0" fill="#00FF00"/>
<circle cx="503.50" cy="146.75" r="1.0" fill="#00FF00"/>
<circle cx="504.45" cy="146.74" r="1.0" fill="#00FF00"/>
<circle cx="505.40" cy="146.73" r="1.0" fill="#00FF00"/>
<circle cx="506.34" cy="146.72" r="1.0" fill="#00FF00"/>
<circle cx="507.29" cy="146.71" r="1.0" fill="#00FF00"/>
<circle cx="508.24" cy="146.70" r="1.0" fill="#00FF00"/>
<circle cx="509.19" cy="146.69" r="1.0" fill="#00FF00"/>
<circle cx="510.14" cy="146.67" r="1.0" fill="#00FF00"/>
<circle cx="511.08" cy="146.66" r="1.0" fill="#00FF00"/>
<circle cx="512.03" cy="146.64" r="1.0" fill="#00FF00"/>
<circle cx="512.98" cy="146.63" r="1.0" fill="#00FF00"/>
<circle cx="513.93" cy="146.61" r="1.0" fill="#00FF00"/>
<circle cx="514.88" cy="146.59" r="1.0" fill="#00FF00"/>
<circle cx="515.82" cy="146.56" r="1.0" fill="#00FF00"/>
<circle cx="516.77" cy="146.53" r="1.0" fill="#00FF00"/>
<circle cx="517.72" cy="146.50" r="1.0" fill="#00FF00"/>
<circle cx="518.67" cy="146.46" r="1.0" fill="#00FF00"/>
<circle cx="519.62" cy="146.41" r="1.0" fill="#00FF00"/>
<circle cx="520.56" cy="146.34" r="1.0" fill="#00FF00"/>
<circle cx="521.51" cy="146.26" r="1.0" fill="#00FF00"/>
<circle cx="522.46" cy="146.14" r="1.0" fill="#00FF00"/>
<circle cx="523.41" cy="145.99" r="1.0" fill="#00FF00"/>
<circle cx="524.36" cy="145.80" r="1.0" fill="#00FF00"/>
<circle cx="525.30" cy="145.53" r="1.0" fill="#00FF00"/>
<circle cx="526.25" cy="145.18" r="1.0" fill="#00FF00"/>
<circle cx="527.20" cy="144.73" r="1.0" fill="#00FF00"/>
<circle cx="528.15" cy="144.13" r="1.0" fill="#00FF00"/>
<circle cx="529.10" cy="143.35" r="1.0" fill="#00FF00"/>
<circle cx="530.04" cy="142.35" r="1.0" fill="#00FF00"/>
<circle cx="530.99" cy="141.09" r="1.0" fill="#00FF00"/>
<circle cx="531.94" cy="139.51" r="1.0" fill="#00FF00"/>
<circle cx="532.89" cy="137.55" r="1.0" fill="#00FF00"/>
<circle cx="533.84" cy="135.15" r="1.0" fill="#00FF00"/>
<circle cx="534.78" cy="132.27" r="1.0" fill="#00FF00"/>
<circle cx="535.73" cy="128.84" r="1.0" fill="#00FF00"/>
<circle cx="536.68" cy="124.82" r="1.0" fill="#00FF00"/>
<circle cx="537.63" cy="120.18" r="1.0" fill="#00FF00"/>
<circle cx="538.58" cy="114.91" r="1.0" fill="#00FF00"/>
<circle cx="539.52" cy="109.00" r="1.0" fill="#00FF00"/>
<circle cx="540.47" cy="102.50" r="1.0" fill="#00FF00"/>
<circle cx="541.42" cy="95.46" r="1.0" fill="#00FF00"/>
<circle cx="542.37" cy="87.98" r="1.0" fill="#00FF00"/>
<circle cx="543.32" cy="80.18" r="1.0" fill="#00FF00"/>
<circle cx="544.26" cy="72.21" r="1.0" fill="#00FF00"/>
<circle cx="545.21" cy="64.26" r="1.0" fill="#00FF00"/>
<circle cx="546.16" cy="56.52" r="1.0" fill="#00FF00"/>
<circle cx="547.11" cy="49.22" r="1.0" fill="#00FF00"/>
<circle cx="548.06" cy="42.57" r="1.0" fill="#00FF00"/>
<circle cx="549.00" cy="36.80" r="1.0" fill="#00FF00"/>
<circle cx="549.95" cy="32.11" r="1.0" fill="#00FF00"/>
<circle cx="550.90" cy="28.66" r="1.0" fill="#00FF00"/>
<circle cx="551.85" cy="26.60" r="1.0" fill="#00FF00"/>
<circle cx="552.80" cy="26.01" r="1.0" fill="#00FF00"/>
<circle cx="553.74" cy="26.90" r="1.0" fill="#00FF00"/>
<circle cx="554.69" cy="29.25" r="1.0" fill="#00FF00"/>
<circle cx="555.64" cy="32.96" r="1.0" fill="#00FF00"/>
<circle cx="556.59" cy="37.89" r="1.0" fill="#00FF00"/>
<circle cx="557.54" cy="43.86" r="1.0" fill="#00FF00"/>
<circle cx="558.48" cy="50.65" r="1.0" fill="#00FF00"/>
<circle cx="559.43" cy="58.06" r="1.0" fill="#00FF00"/>
<circle cx="560.38" cy="65.86" r="1.0" fill="#00FF00"/>
<circle cx="561.33" cy="73.83" r="1.0" fill="#00FF00"/>
<circle cx="562.28" cy="81.77" r="1.0" fill="#00FF00"/>
<circle cx="563.22" cy="89.52" r="1.0" fill="#00FF00"/>
<circle cx="564.17" cy="96.92" r="1.0" fill="#00FF00"/>
<circle cx="565.12" cy="103.86" r="1.0" fill="#00FF00"/>
<circle cx="566.07" cy="110.25" r="1.0" fill="#00FF00"/>
<circle cx="567.02" cy="116.03" r="1.0" fill="#00FF00"/>
<circle cx="567.96" cy="121.17" r="1.0" fill="#00FF00"/>
<circle cx="568.91" cy="125.68" r="1.0" fill="#00FF00"/>
<circle cx="569.86" cy="129.58" r="1.0" fill="#00FF00"/>
<circle cx="570.81" cy="132.89" r="1.0" fill="#00FF00"/>
<circle cx="571.76" cy="135.68" r="1.0" fill="#00FF00"/>
<circle cx="572.70" cy="137.98" r="1.0" fill="#00FF00"/>
<circle cx="573.65" cy="139.85" r="1.0" fill="#00FF00"/>
<circle cx="574.60" cy="141.37" r="1.0" fill="#00FF00"/>
<circle cx="575.55" cy="142.57" r="1.0" fill="#00FF00"/>
<circle cx="576.50" cy="143.52" r="1.0" fill="#00FF00"/>
<circle cx="577.44" cy="144.26" r="1.0" fill="#00FF00"/>
<circle cx="578.39" cy="144.83" r="1.0" fill="#00FF00"/>
<circle cx="579.34" cy="145.26" r="1.0" fill="#00FF00"/>
<circle cx="580.29" cy="145.59" r="1.0" fill="#00FF00"/>
<circle cx="581.24" cy="145.84" r="1.0" fill="#00FF00"/>
<circle cx="582.18" cy="146.03" r="1.0" fill="#00FF00"/>
<circle cx="583.13" cy="146.17" r="1.0" fill="#00FF00"/>
<circle cx="584.08" cy="146.27" r="1.0" fill="#00FF00"/>
<circle cx="585.03" cy="146.36" r="1.0" fill="#00FF00"/>
<circle cx="585.98" cy="146.42" r="1.0" fill="#00FF00"/>
<circle cx="586.92" cy="146.47" r="1.0" fill="#00FF00"/>
<circle cx="587.87" cy="146.51" r="1.0" fill="#00FF00"/>
<circle cx="588.82" cy="146.54" r="1.0" fill="#00FF00"/>
<circle cx="589.77" cy="146.57" r="1.0" fill="#00FF00"/>
<circle cx="590.72" cy="146.59" r="1.0" fill="#00FF00"/>
<circle cx="591.66" cy="146.61" r="1.0" fill="#00FF00"/>
<circle cx="592.61" cy="146.63" r="1.0" fill="#00FF00"/>
<circle cx="593.56" cy="146.65" r="1.0" fill="#00FF00"/>
<circle cx="594.51" cy="146.66" r="1.0" fill="#00FF00"/>
<circle cx="595.46" cy="146.68" r="1.0" fill="#00FF00"/>
<circle cx="596.40" cy="146.69" r="1.0" fill="#00FF00"/>
<circle cx="597.35" cy="146.70" r="1.0" fill="#00FF00"/>
<circle cx="598.30" cy="146.71" r="1.0" fill="#00FF00"/>
<circle cx="599.25" cy="146.73" r="1.0" fill="#00FF00"/>
<circle cx="600.20" cy="146.74" r="1.0" fill="#00FF00"/>
<circle cx="601.14" cy="146.75" r="1.0" fill="#00FF00"/>
<circle cx="602.09" cy="146.75" r="1.0" fill="#00FF00"/>
<circle cx="603.04" cy="146.76" r="1.0" fill="#00FF00"/>
<circle cx="603.99" cy="146.77" r="1.0" fill="#00FF00"/>
<circle cx="604.94" cy="146.78" r="1.0" fill="#00FF00"/>
<circle cx="605.88" cy="146.79" r="1.0" fill="#00FF00"/>
<circle cx="606.83" cy="146.79" r="1.0" fill="#00FF00"/>
<circle cx="607.78" cy="146.80" r="1.0" fill="#00FF00"/>
<circle cx="608.73" cy="146.81" r="1.0" fill="#00FF00"/>
<circle cx="609.68" cy="146.81" r="1.0" fill="#00FF00"/>
<circle cx="610.62" cy="146.82" r="1.0" fill="#00FF00"/>
<circle cx="611.57" cy="146.83" r="1.0" fill="#00FF00"/>
<circle cx="612.52" cy="146.83" r="1.0" fill="#00FF00"/>
<circle cx="613.47" cy="146.84" r="1.0" fill="#00FF00"/>
<circle cx="614.42" cy="146.84" r="1.0" fill="#00FF00"/>
<circle cx="615.36" cy="146.85" r="1.0" fill="#00FF00"/>
<circle cx="616.31" cy="146.85" r="1.0" fill="#00FF00"/>
<circle cx="617.26" cy="146.85" r="1.0" fill="#00FF00"/>
<circle cx="618.21" cy="146.86" r="1.0" fill="#00FF00"/>
<circle cx="619.16" cy="146.86" r="1.0" fill="#00FF00"/>
<circle cx="620.10" cy="146.87" r="1.0" fill="#00FF00"/>
<circle cx="621.05" cy="146.87" r="1.0" fill="#00FF00"/>
<circle cx="622.00" cy="146.87" r="1.0" fill="#00FF00"/>
<circle cx="622.95" cy="146.88" r="1.0" fill="#00FF00"/>
<circle cx="623.90" cy="146.88" r="1.0" fill="#00FF00"/>
<circle cx="624.84" cy="146.88" r="1.0" fill="#00FF00"/>
<circle cx="625.79" cy="146.89" r="1.0" fill="#00FF00"/>
<circle cx="626.74" cy="146.89" r="1.0" fill="#00FF00"/>
<circle cx="627.69" cy="146.89" r="1.0" fill="#00FF00"/>
<circle cx="628.64" cy="146.89" r="1.0" fill="#00FF00"/>
<circle cx="629.58" cy="146.90" r="1.0" fill="#00FF00"/>
<circle cx="630.53" cy="146.90" r="1.0" fill="#00FF00"/>
<circle cx="631.48" cy="146.90" r="1.0" fill="#00FF00"/>
<circle cx="632.43" cy="146.90" r="1.0" fill="#00FF00"/>
<circle cx="633.38" cy="146.91" r="1.0" fill="#00FF00"/>
<circle cx="634.32" cy="146.91" r="1.0" fill="#00FF00"/>
<circle cx="635.27" cy="146.91" r="1.0" fill="#00FF00"/>
<circle cx="636.22" cy="146.91" r="1.0" fill="#00FF00"/>
<circle cx="637.17" cy="146.91" r="1.0" fill="#00FF00"/>
<circle cx="440.30" cy="147.00" r="1.0" fill="#0000FF"/>
<circle cx="441.25" cy="147.00" r="1.0" fill="#0000FF"/>
<circle cx="442.20" cy="147.00" r="1.0" fill="#0000FF"/>
<circle cx="443.14" cy="147.00" r="1.0" fill="#0000FF"/>
<circle cx="444.09" cy="147.00" r="1.0" fill="#0000FF"/>
<circle cx="445.04" cy="147.00" r="1.0" fill="#0000FF"/>
<circle cx="445.99" cy="147.00" r="1.0" fill="#0000FF"/>
<circle cx="446.94" cy="147.00" r="1.0" fill="#0000FF"/>
<circle cx="447.88" cy="147.00" r="1.0" fill="#0000FF"/>
<circle cx="448.83" cy="147.00" r="1.0" fill="#0000FF"/>
<circle cx="449.78" cy="147.00" r="1.0" fill="#0000FF"/>
<circle cx="450.73" cy="147.00" r="1.0" fill="#0000FF"/>
<circle cx="451.68" cy="147.00" r="1.0" fill="#0000FF"/>
<circle cx="452.62" cy="147.00" r="1.0" fill="#0000FF"/>
<circle cx="453.57" cy="147.00" r="1.0" fill="#0000FF"/>
<circle cx="454.52" cy="147.00" r="1.0" fill="#0000FF"/>
<circle cx="455.47" cy="147.00" r="1.0" fill="#0000FF"/>
<circle cx="456.42" cy="147.00" r="1.0" fill="#0000FF"/>
<circle cx="457.36" cy="147.00" r="1.0" fill="#0000FF"/>
<circle cx="458.31" cy="147.00" r="1.0" fill="#0000FF"/>
<circle cx="459.26" cy="147.00" r="1.0" fill="#0000FF"/>
<circle cx="460.21" cy="147.00" r="1.0" fill="#0000FF"/>
<circle cx="461.16" cy="147.00" r="1.0" fill="#0000FF"/>
<circle cx="462.10" cy="146.99" r="1.0" fill="#0000FF"/>
<circle cx="463.05" cy="146.99" r="1.0" fill="#0000FF"/>
<circle cx="464.00" cy="146.97" r="1.0" fill="#0000FF"/>
<circle cx="464.95" cy="146.95" r="1.0" fill="#0000FF"/>
<circle cx="465.90" cy="146.91" r="1.0" fill="#0000FF"/>
<circle cx="466.84" cy="146.86" r="1.0" fill="#0000FF"/>
<circle cx="467.79" cy="146.78" r="1.0" fill="#0000FF"/>
<circle cx="468.74" cy="146.66" r="1.0" fill="#0000FF"/>
<circle cx="469.69" cy="146.50" r="1.0" fill="#0000FF"/>
<circle cx="470.64" cy="146.29" r="1.0" fill="#0000FF"/>
<circle cx="471.58" cy="146.02" r="1.0" fill="#0000FF"/>
<circle cx="472.53" cy="145.67" r="1.0" fill="#0000FF"/>
<circle cx="473.48" cy="145.24" r="1.0" fill="#0000FF"/>
<circle cx="474.43" cy="144.72" r="1.0" fill="#0000FF"/>
<circle cx="475.38" cy="144.09" r="1.0" fill="#0000FF"/>
<circle cx="476.32" cy="143.32" r="1.0" fill="#0000FF"/>
<circle cx="477.27" cy="142.37" r="1.0" fill="#0000FF"/>
<circle cx="478.22" cy="141.19" r="1.0" fill="#0000FF"/>
<circle cx="479.17" cy="139.72" r="1.0" fill="#0000FF"/>
<circle cx="480.12" cy="137.84" r="1.0" fill="#0000FF"/>
<circle cx="481.06" cy="135.43" r="1.0" fill="#0000FF"/>
<circle cx="482.01" cy="132.35" r="1.0" fill="#0000FF"/>
<circle cx="482.96" cy="128.44" r="1.0" fill="#0000FF"/>
<circle cx="483.91" cy="123.54" r="1.0" fill="#0000FF"/>
<circle cx="484.86" cy="117.51" r="1.0" fill="#0000FF"/>
<circle cx="485.80" cy="110.25" r="1.0" fill="#0000FF"/>
<circle cx="486.75" cy="101.74" r="1.0" fill="#0000FF"/>
<circle cx="487.70" cy="92.05" r="1.0" fill="#0000FF"/>
<circle cx="488.65" cy="81.36" r="1.0" fill="#0000FF"/>
<circle cx="489.60" cy="69.98" r="1.0" fill="#0000FF"/>
<circle cx="490.54" cy="58.42" r="1.0" fill="#0000FF"/>
<circle cx="491.49" cy="47.35" r="1.0" fill="#0000FF"/>
<circle cx="492.44" cy="37.67" r="1.0" fill="#0000FF"/>
<circle cx="493.39" cy="30.40" r="1.0" fill="#0000FF"/>
<circle cx="494.34" cy="26.49" r="1.0" fill="#0000FF"/>
<circle cx="495.28" cy="26.53" r="1.0" fill="#0000FF"/>
<circle cx="496.23" cy="30.52" r="1.0" fill="#0000FF"/>
<circle cx="497.18" cy="37.85" r="1.0" fill="#0000FF"/>
<circle cx="498.13" cy="47.57" r="1.0" fill="#0000FF"/>
<circle cx="499.08" cy="58.66" r="1.0" fill="#0000FF"/>
<circle cx="500.02" cy="70.22" r="1.0" fill="#0000FF"/>
<circle cx="500.97" cy="81.59" r="1.0" fill="#0000FF"/>
<circle cx="501.92" cy="92.27" r="1.0" fill="#0000FF"/>
<circle cx="502.87" cy="101.94" r="1.0" fill="#0000FF"/>
<circle cx="503.82" cy="110.42" r="1.0" fill="#0000FF"/>
<circle cx="504.76" cy="117.65" r="1.0" fill="#0000FF"/>
<circle cx="505.71" cy="123.66" r="1.0" fill="#0000FF"/>
<circle cx="506.66" cy="128.54" r="1.0" fill="#0000FF"/>
<circle cx="507.61" cy="132.43" r="1.0" fill="#0000FF"/>
<circle cx="508.56" cy="135.49" r="1.0" fill="#0000FF"/>
<circle cx="509.50" cy="137.88" r="1.0" fill="#0000FF"/>
<circle cx="510.45" cy="139.75" r="1.0" fill="#0000FF"/>
<circle cx="511.40" cy="141.22" r="1.0" fill="#0000FF"/>
<circle cx="512.35" cy="142.39" r="1.0" fill="#0000FF"/>
<circle cx="513.30" cy="143.33" r="1.0" fill="#0000FF"/>
<circle cx="514.24" cy="144.10" r="1.0" fill="#0000FF"/>
<circle cx="515.19" cy="144.73" r="1.0" fill="#0000FF"/>
<circle cx="516.14" cy="145.25" r="1.0" fill="#0000FF"/>
<circle cx="517.09" cy="145.68" r="1.0" fill="#0000FF"/>
<circle cx="518.04" cy="146.02" r="1.0" fill="#0000FF"/>
<circle cx="518.98" cy="146.29" r="1.0" fill="#0000FF"/>
<circle cx="519.93" cy="146.51" r="1.0" fill="#0000FF"/>
<circle cx="520.88" cy="146.66" r="1.0" fill="#0000FF"/>
<circle cx="521.83" cy="146.78" r="1.0" fill="#0000FF"/>
<circle cx="522.78" cy="146.86" r="1.0" fill="#0000FF"/>
<circle cx="523.72" cy="146.91" r="1.0" fill="#0000FF"/>
<circle cx="524.67" cy="146.95" r="1.0" fill="#0000FF"/>
<circle cx="525.62" cy="146.97" r="1.0" fill="#0000FF"/>
<circle cx="526.57" cy="146.99" r="1.0" fill="#0000FF"/>
<circle cx="527.52" cy="146.99" r="1.0" fill="#0000FF"/>
<circle cx="528.46" cy="147.00" r="1.0" fill="#0000FF"/>
<circle cx="529.41" cy="147.00" r="1.0" fill="#0000FF"/>
<circle cx="530.36" cy="147.00" r="1.0" fill="#0000FF"/>
<circle cx="531.31" cy="147.00" r="1.0" fill="#0000FF"/>
<circle cx="532.26" cy="147.00" r="1.0" fill="#0000FF"/>
<circle cx="533.20" cy="147.00" r="1.0" fill="#0000FF"/>
<circle cx="534.15" cy="147.00" r="1.0" fill="#0000FF"/>
<circle cx="535.10" cy="147.00" r="1.0" fill="#0000FF"/>
<circle cx="536.05" cy="147.00" r="1.0" fill="#0000FF"/>
<circle cx="537.00" cy="147.00" r="1.0" fill="#0000FF"/>
<circle cx="537.94" cy="147.00" r="1.0" fill="#0000FF"/>
<circle cx="538.89" cy="147.00" r="1.0" fill="#0000FF"/>
<circle cx="539.84" cy="147.00" r="1.0" fill="#0000FF"/>
<circle cx="540.79" cy="147.00" r="1.0" fill="#0000FF"/>
<circle cx="541.74" cy="147.00" r="1.0" fill="#0000FF"/>
<circle cx="542.68" cy="147.00" r="1.0" fill="#0000FF"/>
<circle cx="543.63" cy="147.00" r="1.0" fill="#0000FF"/>
<circle cx="544.58" cy="147.00" r="1.0" fill="#0000FF"/>
<circle cx="545.53" cy="147.00" r="1.0" fill="#0000FF"/>
<circle cx="546.48" cy="147.00" r="1.0" fill="#0000FF"/>
<circle cx="547.42" cy="147.00" r="1.0" fill="#0000FF"/>
<circle cx="548.37" cy="147.00" r="1.0" fill="#0000FF"/>
<circle cx="549.32" cy="147.00" r="1.0" fill="#0000FF"/>
<circle cx="550.27" cy="147.00" r="1.0" fill="#0000FF"/>
<circle cx="551.22" cy="147.00" r="1.0" fill="#0000FF"/>
<circle cx="552.16" cy="147.00" r="1.0" fill="#0000FF"/>
<circle cx="553.11" cy="147.00" r="1.0" fill="#0000FF"/>
<circle cx="554.06" cy="147.00" r="1.0" fill="#0000FF"/>
<circle cx="555.01" cy="147.00" r="1.0" fill="#0000FF"/>
<circle cx="555.96" cy="147.00" r="1.0" fill="#0000FF"/>
<circle cx="556.90" cy="147.00" r="1.0" fill="#0000FF"/>
<circle cx="557.85" cy="147.00" r="1.0" fill="#0000FF"/>
<circle cx="558.80" cy="147.00" r="1.0" fill="#0000FF"/>
<circle cx="559.75" cy="147.00" r="1.0" fill="#0000FF"/>
<circle cx="560.70" cy="147.00" r="1.0" fill="#0000FF"/>
<circle cx="561.64" cy="147.00" r="1.0" fill="#0000FF"/>
<circle cx="562.59" cy="147.00" r="1.0" fill="#0000FF"/>
<circle cx="563.54" cy="147.00" r="1.0" fill="#0000FF"/>
<circle cx="564.49" cy="147.00" r="1.0" fill="#0000FF"/>
<circle cx="565.44" cy="147.00" r="1.0" fill="#0000FF"/>
<circle cx="566.38" cy="147.00" r="1.0" fill="#0000FF"/>
<line x1="437.20" y1="147.00" x2="440.20" y2="147.00" stroke="#000" stroke-width="1.2" />
<text x="437.60" y="151.10" font-size="12.2" text-anchor="end" fill="#000" >0.0</text>
<line x1="437.20" y1="122.80" x2="440.20" y2="122.80" stroke="#000" stroke-width="1.2" />
<text x="437.60" y="126.90" font-size="12.2" text-anchor="end" fill="#000" >0.2</text>
<line x1="437.20" y1="98.60" x2="440.20" y2="98.60" stroke="#000" stroke-width="1.2" />
<text x="437.60" y="102.70" font-size="12.2" text-anchor="end" fill="#000" >0.4</text>
<line x1="437.20" y1="74.40" x2="440.20" y2="74.40" stroke="#000" stroke-width="1.2" />
<text x="437.60" y="78.50" font-size="12.2" text-anchor="end" fill="#000" >0.6</text>
<line x1="437.20" y1="50.20" x2="440.20" y2="50.20" stroke="#000" stroke-width="1.2" />
<text x="437.60" y="54.30" font-size="12.2" text-anchor="end" fill="#000" >0.8</text>
<line x1="437.20" y1="26.00" x2="440.20" y2="26.00" stroke="#000" stroke-width="1.2" />
<text x="437.60" y="30.10" font-size="12.2" text-anchor="end" fill="#000" >1.0</text>
<line x1="440.00" y1="147.00" x2="440.00" y2="150.00" stroke="#000" stroke-width="1.2" />
<text x="440.00" y="161.00" font-size="11.5" text-anchor="middle" fill="#000" >400</text>
<line x1="519.00" y1="147.00" x2="519.00" y2="150.00" stroke="#000" stroke-width="1.2" />
<text x="519.00" y="161.00" font-size="11.5" text-anchor="middle" fill="#000" >500</text>
<line x1="598.00" y1="147.00" x2="598.00" y2="150.00" stroke="#000" stroke-width="1.2" />
<text x="598.00" y="161.00" font-size="11.5" text-anchor="middle" fill="#000" >600</text>
<line x1="677.00" y1="147.00" x2="677.00" y2="150.00" stroke="#000" stroke-width="1.2" />
<text x="677.00" y="161.00" font-size="11.5" text-anchor="middle" fill="#000" >700</text>
<line x1="479.50" y1="147.00" x2="479.50" y2="149.00" stroke="#000" stroke-width="1.0" />
<line x1="558.50" y1="147.00" x2="558.50" y2="149.00" stroke="#000" stroke-width="1.0" />
<line x1="637.50" y1="147.00" x2="637.50" y2="149.00" stroke="#000" stroke-width="1.0" />
<text x="558.20" y="174.00" font-size="14.3" text-anchor="middle" fill="#000" >Wavelength (nm)</text>
<text x="419.80" y="81.00" font-size="15.2" text-anchor="middle" fill="#000" transform="rotate(-90 419.8 81.0)" >PL Intensity (arb.u.)</text>
<text x="395.00" y="30.40" font-size="22.8" text-anchor="start" fill="#000" >b</text>
<rect x="41.80" y="192.00" width="154.10" height="124.00" fill="none" stroke="#000" stroke-width="1.65"/>
<line x1="41.00" y1="316.00" x2="41.00" y2="319.00" stroke="#000" stroke-width="1.1" />
<text x="41.00" y="327.00" font-size="8" text-anchor="middle" fill="#000" >0</text>
<line x1="56.45" y1="316.00" x2="56.45" y2="318.00" stroke="#000" stroke-width="1.0" />
<line x1="71.90" y1="316.00" x2="71.90" y2="319.00" stroke="#000" stroke-width="1.1" />
<text x="71.90" y="327.00" font-size="8" text-anchor="middle" fill="#000" >1</text>
<line x1="87.35" y1="316.00" x2="87.35" y2="318.00" stroke="#000" stroke-width="1.0" />
<line x1="102.80" y1="316.00" x2="102.80" y2="319.00" stroke="#000" stroke-width="1.1" />
<text x="102.80" y="327.00" font-size="8" text-anchor="middle" fill="#000" >2</text>
<line x1="118.25" y1="316.00" x2="118.25" y2="318.00" stroke="#000" stroke-width="1.0" />
<line x1="133.70" y1="316.00" x2="133.70" y2="319.00" stroke="#000" stroke-width="1.1" />
<text x="133.70" y="327.00" font-size="8" text-anchor="middle" fill="#000" >3</text>
<line x1="149.15" y1="316.00" x2="149.15" y2="318.00" stroke="#000" stroke-width="1.0" />
<line x1="164.60" y1="316.00" x2="164.60" y2="319.00" stroke="#000" stroke-width="1.1" />
<text x="164.60" y="327.00" font-size="8" text-anchor="middle" fill="#000" >4</text>
<line x1="180.05" y1="316.00" x2="180.05" y2="318.00" stroke="#000" stroke-width="1.0" />
<line x1="195.50" y1="316.00" x2="195.50" y2="319.00" stroke="#000" stroke-width="1.1" />
<text x="195.50" y="327.00" font-size="8" text-anchor="middle" fill="#000" >5</text>
<line x1="38.80" y1="312.20" x2="41.80" y2="312.20" stroke="#000" stroke-width="1.1" />
<text x="37.50" y="315.10" font-size="8" text-anchor="end" fill="#000" >0</text>
<line x1="38.80" y1="293.73" x2="41.80" y2="293.73" stroke="#000" stroke-width="1.1" />
<text x="37.50" y="296.63" font-size="8" text-anchor="end" fill="#000" >10</text>
<line x1="38.80" y1="275.26" x2="41.80" y2="275.26" stroke="#000" stroke-width="1.1" />
<text x="37.50" y="278.16" font-size="8" text-anchor="end" fill="#000" >20</text>
<line x1="38.80" y1="256.79" x2="41.80" y2="256.79" stroke="#000" stroke-width="1.1" />
<text x="37.50" y="259.69" font-size="8" text-anchor="end" fill="#000" >30</text>
<line x1="38.80" y1="238.32" x2="41.80" y2="238.32" stroke="#000" stroke-width="1.1" />
<text x="37.50" y="241.22" font-size="8" text-anchor="end" fill="#000" >40</text>
<line x1="38.80" y1="219.85" x2="41.80" y2="219.85" stroke="#000" stroke-width="1.1" />
<text x="37.50" y="222.75" font-size="8" text-anchor="end" fill="#000" >50</text>
<line x1="38.80" y1="201.38" x2="41.80" y2="201.38" stroke="#000" stroke-width="1.1" />
<text x="37.50" y="204.28" font-size="8" text-anchor="end" fill="#000" >60</text>
<line x1="195.90" y1="192.00" x2="198.40" y2="192.00" stroke="#000" stroke-width="1.1" />
<text x="199.50" y="194.90" font-size="8">10<tspan dy="-3" font-size="4.80">5</tspan></text>
<line x1="195.90" y1="208.76" x2="198.40" y2="208.76" stroke="#000" stroke-width="1.1" />
<text x="199.50" y="211.66" font-size="8">10<tspan dy="-3" font-size="4.80">4</tspan></text>
<line x1="195.90" y1="225.52" x2="198.40" y2="225.52" stroke="#000" stroke-width="1.1" />
<text x="199.50" y="228.42" font-size="8">10<tspan dy="-3" font-size="4.80">3</tspan></text>
<line x1="195.90" y1="242.28" x2="198.40" y2="242.28" stroke="#000" stroke-width="1.1" />
<text x="199.50" y="245.18" font-size="8">10<tspan dy="-3" font-size="4.80">2</tspan></text>
<line x1="195.90" y1="259.04" x2="198.40" y2="259.04" stroke="#000" stroke-width="1.1" />
<text x="199.50" y="261.94" font-size="8">10<tspan dy="-3" font-size="4.80">1</tspan></text>
<line x1="195.90" y1="275.80" x2="198.40" y2="275.80" stroke="#000" stroke-width="1.1" />
<text x="199.50" y="278.70" font-size="8">10<tspan dy="-3" font-size="4.80">0</tspan></text>
<line x1="195.90" y1="292.56" x2="198.40" y2="292.56" stroke="#000" stroke-width="1.1" />
<text x="199.50" y="295.46" font-size="8">10<tspan dy="-3" font-size="4.80">-1</tspan></text>
<line x1="195.90" y1="309.32" x2="198.40" y2="309.32" stroke="#000" stroke-width="1.1" />
<text x="199.50" y="312.22" font-size="8">10<tspan dy="-3" font-size="4.80">-2</tspan></text>
<polyline points="41.00,312.20 47.18,312.20 53.36,312.20 59.54,312.20 65.72,312.20 71.90,312.20 78.08,312.20 84.26,312.20 90.44,312.20 96.62,312.20 102.80,312.20 108.98,312.20 115.16,312.20 121.34,312.00 127.52,310.80 133.70,307.30 139.88,303.50 146.06,298.80 152.24,291.90 158.42,283.30 164.60,273.40 170.78,262.30 176.96,250.50 183.14,236.70 189.32,222.70 195.50,209.20" fill="none" stroke="#000" stroke-width="2.0" stroke-linejoin="round" />
<rect x="45.75" y="310.77" width="2.85" height="2.85" fill="#fff" stroke="#000" stroke-width="0.35"/>
<rect x="51.93" y="310.77" width="2.85" height="2.85" fill="#fff" stroke="#000" stroke-width="0.35"/>
<rect x="58.11" y="310.77" width="2.85" height="2.85" fill="#fff" stroke="#000" stroke-width="0.35"/>
<rect x="64.30" y="310.77" width="2.85" height="2.85" fill="#fff" stroke="#000" stroke-width="0.35"/>
<rect x="70.48" y="310.77" width="2.85" height="2.85" fill="#fff" stroke="#000" stroke-width="0.35"/>
<rect x="76.66" y="310.77" width="2.85" height="2.85" fill="#fff" stroke="#000" stroke-width="0.35"/>
<rect x="82.83" y="310.77" width="2.85" height="2.85" fill="#fff" stroke="#000" stroke-width="0.35"/>
<rect x="89.02" y="310.77" width="2.85" height="2.85" fill="#fff" stroke="#000" stroke-width="0.35"/>
<rect x="95.20" y="310.77" width="2.85" height="2.85" fill="#fff" stroke="#000" stroke-width="0.35"/>
<rect x="101.38" y="310.77" width="2.85" height="2.85" fill="#fff" stroke="#000" stroke-width="0.35"/>
<rect x="107.56" y="310.77" width="2.85" height="2.85" fill="#fff" stroke="#000" stroke-width="0.35"/>
<rect x="113.73" y="310.77" width="2.85" height="2.85" fill="#fff" stroke="#000" stroke-width="0.35"/>
<rect x="119.92" y="310.57" width="2.85" height="2.85" fill="#fff" stroke="#000" stroke-width="0.35"/>
<rect x="126.09" y="309.38" width="2.85" height="2.85" fill="#fff" stroke="#000" stroke-width="0.35"/>
<rect x="132.28" y="305.88" width="2.85" height="2.85" fill="#fff" stroke="#000" stroke-width="0.35"/>
<rect x="138.46" y="302.07" width="2.85" height="2.85" fill="#fff" stroke="#000" stroke-width="0.35"/>
<rect x="144.64" y="297.38" width="2.85" height="2.85" fill="#fff" stroke="#000" stroke-width="0.35"/>
<rect x="150.82" y="290.47" width="2.85" height="2.85" fill="#fff" stroke="#000" stroke-width="0.35"/>
<rect x="157.00" y="281.88" width="2.85" height="2.85" fill="#fff" stroke="#000" stroke-width="0.35"/>
<rect x="163.18" y="271.97" width="2.85" height="2.85" fill="#fff" stroke="#000" stroke-width="0.35"/>
<rect x="169.36" y="260.88" width="2.85" height="2.85" fill="#fff" stroke="#000" stroke-width="0.35"/>
<rect x="175.54" y="249.08" width="2.85" height="2.85" fill="#fff" stroke="#000" stroke-width="0.35"/>
<rect x="181.72" y="235.28" width="2.85" height="2.85" fill="#fff" stroke="#000" stroke-width="0.35"/>
<rect x="187.90" y="221.28" width="2.85" height="2.85" fill="#fff" stroke="#000" stroke-width="0.35"/>
<rect x="194.08" y="207.78" width="2.85" height="2.85" fill="#fff" stroke="#000" stroke-width="0.35"/>
<polyline points="41.00,312.20 47.18,312.20 53.36,312.20 59.54,312.20 65.72,312.20 71.90,312.20 78.08,312.20 84.26,312.20 90.44,312.20 96.62,312.20 102.80,312.20 108.98,312.20 115.16,312.20 121.34,312.20 127.52,311.00 133.70,309.60 139.88,307.00 146.06,303.80 152.24,298.80 158.42,292.60 164.60,285.10 170.78,275.50 176.96,265.30 183.14,252.60 189.32,241.10 195.50,228.30" fill="none" stroke="#FF0000" stroke-width="2.0" stroke-linejoin="round" />
<rect x="45.75" y="310.77" width="2.85" height="2.85" fill="#fff" stroke="#FF0000" stroke-width="0.35"/>
<rect x="51.93" y="310.77" width="2.85" height="2.85" fill="#fff" stroke="#FF0000" stroke-width="0.35"/>
<rect x="58.11" y="310.77" width="2.85" height="2.85" fill="#fff" stroke="#FF0000" stroke-width="0.35"/>
<rect x="64.30" y="310.77" width="2.85" height="2.85" fill="#fff" stroke="#FF0000" stroke-width="0.35"/>
<rect x="70.48" y="310.77" width="2.85" height="2.85" fill="#fff" stroke="#FF0000" stroke-width="0.35"/>
<rect x="76.66" y="310.77" width="2.85" height="2.85" fill="#fff" stroke="#FF0000" stroke-width="0.35"/>
<rect x="82.83" y="310.77" width="2.85" height="2.85" fill="#fff" stroke="#FF0000" stroke-width="0.35"/>
<rect x="89.02" y="310.77" width="2.85" height="2.85" fill="#fff" stroke="#FF0000" stroke-width="0.35"/>
<rect x="95.20" y="310.77" width="2.85" height="2.85" fill="#fff" stroke="#FF0000" stroke-width="0.35"/>
<rect x="101.38" y="310.77" width="2.85" height="2.85" fill="#fff" stroke="#FF0000" stroke-width="0.35"/>
<rect x="107.56" y="310.77" width="2.85" height="2.85" fill="#fff" stroke="#FF0000" stroke-width="0.35"/>
<rect x="113.73" y="310.77" width="2.85" height="2.85" fill="#fff" stroke="#FF0000" stroke-width="0.35"/>
<rect x="119.92" y="310.77" width="2.85" height="2.85" fill="#fff" stroke="#FF0000" stroke-width="0.35"/>
<rect x="126.09" y="309.57" width="2.85" height="2.85" fill="#fff" stroke="#FF0000" stroke-width="0.35"/>
<rect x="132.28" y="308.18" width="2.85" height="2.85" fill="#fff" stroke="#FF0000" stroke-width="0.35"/>
<rect x="138.46" y="305.57" width="2.85" height="2.85" fill="#fff" stroke="#FF0000" stroke-width="0.35"/>
<rect x="144.64" y="302.38" width="2.85" height="2.85" fill="#fff" stroke="#FF0000" stroke-width="0.35"/>
<rect x="150.82" y="297.38" width="2.85" height="2.85" fill="#fff" stroke="#FF0000" stroke-width="0.35"/>
<rect x="157.00" y="291.18" width="2.85" height="2.85" fill="#fff" stroke="#FF0000" stroke-width="0.35"/>
<rect x="163.18" y="283.68" width="2.85" height="2.85" fill="#fff" stroke="#FF0000" stroke-width="0.35"/>
<rect x="169.36" y="274.07" width="2.85" height="2.85" fill="#fff" stroke="#FF0000" stroke-width="0.35"/>
<rect x="175.54" y="263.88" width="2.85" height="2.85" fill="#fff" stroke="#FF0000" stroke-width="0.35"/>
<rect x="181.72" y="251.18" width="2.85" height="2.85" fill="#fff" stroke="#FF0000" stroke-width="0.35"/>
<rect x="187.90" y="239.68" width="2.85" height="2.85" fill="#fff" stroke="#FF0000" stroke-width="0.35"/>
<rect x="194.08" y="226.88" width="2.85" height="2.85" fill="#fff" stroke="#FF0000" stroke-width="0.35"/>
<polyline points="41.00,299.20 47.18,304.10 53.36,304.50 59.54,304.50 65.72,304.50 71.90,304.50 78.08,304.50 84.26,304.50 90.44,304.50 96.62,304.50 102.80,304.50 108.98,284.00 115.16,261.80 121.34,247.70 127.52,237.20 133.70,231.00 139.88,225.50 146.06,221.10 152.24,218.00 158.42,215.20 164.60,213.10 170.78,211.10 176.96,210.00 183.14,208.80 189.32,207.70 195.50,206.80" fill="none" stroke="#000" stroke-width="1.2" stroke-linejoin="round" />
<rect x="45.68" y="302.60" width="3.0" height="3.0" fill="#000"/>
<rect x="51.86" y="303.00" width="3.0" height="3.0" fill="#000"/>
<rect x="58.04" y="303.00" width="3.0" height="3.0" fill="#000"/>
<rect x="64.22" y="303.00" width="3.0" height="3.0" fill="#000"/>
<rect x="70.40" y="303.00" width="3.0" height="3.0" fill="#000"/>
<rect x="76.58" y="303.00" width="3.0" height="3.0" fill="#000"/>
<rect x="82.76" y="303.00" width="3.0" height="3.0" fill="#000"/>
<rect x="88.94" y="303.00" width="3.0" height="3.0" fill="#000"/>
<rect x="95.12" y="303.00" width="3.0" height="3.0" fill="#000"/>
<rect x="101.30" y="303.00" width="3.0" height="3.0" fill="#000"/>
<rect x="107.48" y="282.50" width="3.0" height="3.0" fill="#000"/>
<rect x="113.66" y="260.30" width="3.0" height="3.0" fill="#000"/>
<rect x="119.84" y="246.20" width="3.0" height="3.0" fill="#000"/>
<rect x="126.02" y="235.70" width="3.0" height="3.0" fill="#000"/>
<rect x="132.20" y="229.50" width="3.0" height="3.0" fill="#000"/>
<rect x="138.38" y="224.00" width="3.0" height="3.0" fill="#000"/>
<rect x="144.56" y="219.60" width="3.0" height="3.0" fill="#000"/>
<rect x="150.74" y="216.50" width="3.0" height="3.0" fill="#000"/>
<rect x="156.92" y="213.70" width="3.0" height="3.0" fill="#000"/>
<rect x="163.10" y="211.60" width="3.0" height="3.0" fill="#000"/>
<rect x="169.28" y="209.60" width="3.0" height="3.0" fill="#000"/>
<rect x="175.46" y="208.50" width="3.0" height="3.0" fill="#000"/>
<rect x="181.64" y="207.30" width="3.0" height="3.0" fill="#000"/>
<rect x="187.82" y="206.20" width="3.0" height="3.0" fill="#000"/>
<rect x="194.00" y="205.30" width="3.0" height="3.0" fill="#000"/>
<polyline points="41.00,307.70 47.18,306.00 53.36,305.10 59.54,304.80 65.72,305.30 71.90,304.90 78.08,304.40 84.26,304.20 90.44,304.80 96.62,305.20 102.80,305.10 108.98,284.60 115.16,262.20 121.34,250.20 127.52,241.80 133.70,234.90 139.88,229.40 146.06,225.10 152.24,221.50 158.42,218.60 164.60,216.20 170.78,214.10 176.96,212.20 183.14,210.70 189.32,209.30 195.50,208.10" fill="none" stroke="#FF0000" stroke-width="1.8" stroke-linejoin="round" />
<rect x="45.58" y="304.40" width="3.2" height="3.2" fill="#FF0000"/>
<rect x="51.76" y="303.50" width="3.2" height="3.2" fill="#FF0000"/>
<rect x="57.94" y="303.20" width="3.2" height="3.2" fill="#FF0000"/>
<rect x="64.12" y="303.70" width="3.2" height="3.2" fill="#FF0000"/>
<rect x="70.30" y="303.30" width="3.2" height="3.2" fill="#FF0000"/>
<rect x="76.48" y="302.80" width="3.2" height="3.2" fill="#FF0000"/>
<rect x="82.66" y="302.60" width="3.2" height="3.2" fill="#FF0000"/>
<rect x="88.84" y="303.20" width="3.2" height="3.2" fill="#FF0000"/>
<rect x="95.02" y="303.60" width="3.2" height="3.2" fill="#FF0000"/>
<rect x="101.20" y="303.50" width="3.2" height="3.2" fill="#FF0000"/>
<rect x="107.38" y="283.00" width="3.2" height="3.2" fill="#FF0000"/>
<rect x="113.56" y="260.60" width="3.2" height="3.2" fill="#FF0000"/>
<rect x="119.74" y="248.60" width="3.2" height="3.2" fill="#FF0000"/>
<rect x="125.92" y="240.20" width="3.2" height="3.2" fill="#FF0000"/>
<rect x="132.10" y="233.30" width="3.2" height="3.2" fill="#FF0000"/>
<rect x="138.28" y="227.80" width="3.2" height="3.2" fill="#FF0000"/>
<rect x="144.46" y="223.50" width="3.2" height="3.2" fill="#FF0000"/>
<rect x="150.64" y="219.90" width="3.2" height="3.2" fill="#FF0000"/>
<rect x="156.82" y="217.00" width="3.2" height="3.2" fill="#FF0000"/>
<rect x="163.00" y="214.60" width="3.2" height="3.2" fill="#FF0000"/>
<rect x="169.18" y="212.50" width="3.2" height="3.2" fill="#FF0000"/>
<rect x="175.36" y="210.60" width="3.2" height="3.2" fill="#FF0000"/>
<rect x="181.54" y="209.10" width="3.2" height="3.2" fill="#FF0000"/>
<rect x="187.72" y="207.70" width="3.2" height="3.2" fill="#FF0000"/>
<rect x="193.90" y="206.50" width="3.2" height="3.2" fill="#FF0000"/>
<circle cx="141.20" cy="234.30" r="0.78" fill="#000"/>
<circle cx="141.12" cy="236.62" r="0.78" fill="#000"/>
<circle cx="140.88" cy="238.94" r="0.78" fill="#000"/>
<circle cx="140.45" cy="241.23" r="0.78" fill="#000"/>
<circle cx="139.79" cy="243.44" r="0.78" fill="#000"/>
<circle cx="138.76" cy="245.52" r="0.78" fill="#000"/>
<circle cx="137.06" cy="247.01" r="0.78" fill="#000"/>
<circle cx="134.95" cy="246.38" r="0.78" fill="#000"/>
<circle cx="133.65" cy="244.49" r="0.78" fill="#000"/>
<circle cx="132.83" cy="242.30" r="0.78" fill="#000"/>
<circle cx="132.30" cy="240.04" r="0.78" fill="#000"/>
<circle cx="131.97" cy="237.76" r="0.78" fill="#000"/>
<circle cx="131.82" cy="235.42" r="0.78" fill="#000"/>
<circle cx="131.82" cy="233.14" r="0.78" fill="#000"/>
<circle cx="131.98" cy="230.81" r="0.78" fill="#000"/>
<circle cx="132.31" cy="228.52" r="0.78" fill="#000"/>
<circle cx="132.84" cy="226.27" r="0.78" fill="#000"/>
<circle cx="133.67" cy="224.09" r="0.78" fill="#000"/>
<circle cx="134.96" cy="222.20" r="0.78" fill="#000"/>
<circle cx="137.07" cy="221.60" r="0.78" fill="#000"/>
<circle cx="138.78" cy="223.10" r="0.78" fill="#000"/>
<circle cx="139.80" cy="225.19" r="0.78" fill="#000"/>
<circle cx="140.46" cy="227.41" r="0.78" fill="#000"/>
<circle cx="140.89" cy="229.70" r="0.78" fill="#000"/>
<circle cx="141.12" cy="232.02" r="0.78" fill="#000"/>
<line x1="145.10" y1="237.60" x2="159.80" y2="237.60" stroke="#000" stroke-width="1.4" />
<polygon points="162.80,237.60 157.30,235.20 157.30,240.00" fill="#000" />
<circle cx="173.80" cy="282.60" r="0.78" fill="#000"/>
<circle cx="173.72" cy="284.92" r="0.78" fill="#000"/>
<circle cx="173.49" cy="287.24" r="0.78" fill="#000"/>
<circle cx="173.08" cy="289.49" r="0.78" fill="#000"/>
<circle cx="172.43" cy="291.71" r="0.78" fill="#000"/>
<circle cx="171.44" cy="293.78" r="0.78" fill="#000"/>
<circle cx="169.76" cy="295.30" r="0.78" fill="#000"/>
<circle cx="167.67" cy="294.67" r="0.78" fill="#000"/>
<circle cx="166.39" cy="292.74" r="0.78" fill="#000"/>
<circle cx="165.60" cy="290.57" r="0.78" fill="#000"/>
<circle cx="165.09" cy="288.34" r="0.78" fill="#000"/>
<circle cx="164.77" cy="286.06" r="0.78" fill="#000"/>
<circle cx="164.62" cy="283.72" r="0.78" fill="#000"/>
<circle cx="164.62" cy="281.44" r="0.78" fill="#000"/>
<circle cx="164.77" cy="279.11" r="0.78" fill="#000"/>
<circle cx="165.09" cy="276.82" r="0.78" fill="#000"/>
<circle cx="165.61" cy="274.60" r="0.78" fill="#000"/>
<circle cx="166.40" cy="272.44" r="0.78" fill="#000"/>
<circle cx="167.68" cy="270.52" r="0.78" fill="#000"/>
<circle cx="169.78" cy="269.90" r="0.78" fill="#000"/>
<circle cx="171.45" cy="271.44" r="0.78" fill="#000"/>
<circle cx="172.44" cy="273.52" r="0.78" fill="#000"/>
<circle cx="173.08" cy="275.74" r="0.78" fill="#000"/>
<circle cx="173.49" cy="278.00" r="0.78" fill="#000"/>
<circle cx="173.73" cy="280.32" r="0.78" fill="#000"/>
<line x1="162.80" y1="283.50" x2="146.10" y2="283.50" stroke="#000" stroke-width="1.4" />
<polygon points="143.10,283.50 148.60,281.10 148.60,285.90" fill="#000" />
<line x1="51.10" y1="201.80" x2="67.60" y2="201.80" stroke="#000" stroke-width="1.8" />
<rect x="57.70" y="200.20" width="3.2" height="3.2" fill="#000"/>
<line x1="72.10" y1="201.80" x2="88.60" y2="201.80" stroke="#000" stroke-width="1.8" />
<rect x="78.90" y="200.60" width="2.4" height="2.4" fill="#fff" stroke="#000" stroke-width="0.6"/>
<line x1="51.10" y1="209.10" x2="67.60" y2="209.10" stroke="#FF0000" stroke-width="1.8" />
<rect x="57.70" y="207.50" width="3.2" height="3.2" fill="#FF0000"/>
<line x1="72.10" y1="209.10" x2="88.60" y2="209.10" stroke="#FF0000" stroke-width="1.8" />
<rect x="78.90" y="207.90" width="2.4" height="2.4" fill="#fff" stroke="#FF0000" stroke-width="0.6"/>
<text x="91.70" y="204.70" font-size="8.1" text-anchor="start" fill="#000" >Pristine</text>
<text x="91.70" y="212.00" font-size="8.1" text-anchor="start" fill="#FF0000" >Crosslinked</text>
<text x="-0.30" y="205.60" font-size="24.5" text-anchor="start" fill="#000" >c</text>
<text x="118.90" y="339.60" font-size="10.7" text-anchor="middle" fill="#000" >Voltage (V)</text>
<text x="26.20" y="312.90" font-size="10.6" text-anchor="start" transform="rotate(-90 26.20 312.90)">Current density (mA cm<tspan dy="-3.18" font-size="5.83">-2</tspan><tspan dy="3.18">)</tspan></text>
<text x="224.60" y="300.70" font-size="10.75" text-anchor="start" transform="rotate(-90 224.60 300.70)">Luminance (Cd m<tspan dy="-4.30" font-size="9.14">-2</tspan><tspan dy="4.30">)</tspan></text>
<rect x="270.60" y="192.00" width="153.80" height="123.50" fill="none" stroke="#000" stroke-width="1.65"/>
<line x1="270.10" y1="315.50" x2="270.10" y2="318.50" stroke="#000" stroke-width="1.1" />
<text x="270.10" y="327.00" font-size="8" text-anchor="middle" fill="#000" >0</text>
<line x1="280.83" y1="315.50" x2="280.83" y2="317.50" stroke="#000" stroke-width="1.0" />
<line x1="291.55" y1="315.50" x2="291.55" y2="318.50" stroke="#000" stroke-width="1.1" />
<text x="291.55" y="327.00" font-size="8" text-anchor="middle" fill="#000" >1</text>
<line x1="302.28" y1="315.50" x2="302.28" y2="317.50" stroke="#000" stroke-width="1.0" />
<line x1="313.00" y1="315.50" x2="313.00" y2="318.50" stroke="#000" stroke-width="1.1" />
<text x="313.00" y="327.00" font-size="8" text-anchor="middle" fill="#000" >2</text>
<line x1="323.73" y1="315.50" x2="323.73" y2="317.50" stroke="#000" stroke-width="1.0" />
<line x1="334.45" y1="315.50" x2="334.45" y2="318.50" stroke="#000" stroke-width="1.1" />
<text x="334.45" y="327.00" font-size="8" text-anchor="middle" fill="#000" >3</text>
<line x1="345.18" y1="315.50" x2="345.18" y2="317.50" stroke="#000" stroke-width="1.0" />
<line x1="355.90" y1="315.50" x2="355.90" y2="318.50" stroke="#000" stroke-width="1.1" />
<text x="355.90" y="327.00" font-size="8" text-anchor="middle" fill="#000" >4</text>
<line x1="366.62" y1="315.50" x2="366.62" y2="317.50" stroke="#000" stroke-width="1.0" />
<line x1="377.35" y1="315.50" x2="377.35" y2="318.50" stroke="#000" stroke-width="1.1" />
<text x="377.35" y="327.00" font-size="8" text-anchor="middle" fill="#000" >5</text>
<line x1="388.08" y1="315.50" x2="388.08" y2="317.50" stroke="#000" stroke-width="1.0" />
<line x1="398.80" y1="315.50" x2="398.80" y2="318.50" stroke="#000" stroke-width="1.1" />
<text x="398.80" y="327.00" font-size="8" text-anchor="middle" fill="#000" >6</text>
<line x1="409.52" y1="315.50" x2="409.52" y2="317.50" stroke="#000" stroke-width="1.0" />
<line x1="420.25" y1="315.50" x2="420.25" y2="318.50" stroke="#000" stroke-width="1.1" />
<text x="420.25" y="327.00" font-size="8" text-anchor="middle" fill="#000" >7</text>
<line x1="267.60" y1="312.40" x2="270.60" y2="312.40" stroke="#000" stroke-width="1.1" />
<text x="266.30" y="315.30" font-size="8" text-anchor="end" fill="#000" >0</text>
<line x1="267.60" y1="293.80" x2="270.60" y2="293.80" stroke="#000" stroke-width="1.1" />
<text x="266.30" y="296.70" font-size="8" text-anchor="end" fill="#000" >10</text>
<line x1="267.60" y1="275.20" x2="270.60" y2="275.20" stroke="#000" stroke-width="1.1" />
<text x="266.30" y="278.10" font-size="8" text-anchor="end" fill="#000" >20</text>
<line x1="267.60" y1="256.60" x2="270.60" y2="256.60" stroke="#000" stroke-width="1.1" />
<text x="266.30" y="259.50" font-size="8" text-anchor="end" fill="#000" >30</text>
<line x1="267.60" y1="238.00" x2="270.60" y2="238.00" stroke="#000" stroke-width="1.1" />
<text x="266.30" y="240.90" font-size="8" text-anchor="end" fill="#000" >40</text>
<line x1="267.60" y1="219.40" x2="270.60" y2="219.40" stroke="#000" stroke-width="1.1" />
<text x="266.30" y="222.30" font-size="8" text-anchor="end" fill="#000" >50</text>
<line x1="267.60" y1="200.80" x2="270.60" y2="200.80" stroke="#000" stroke-width="1.1" />
<text x="266.30" y="203.70" font-size="8" text-anchor="end" fill="#000" >60</text>
<line x1="424.40" y1="192.00" x2="426.90" y2="192.00" stroke="#000" stroke-width="1.1" />
<text x="428.00" y="194.90" font-size="8">10<tspan dy="-3" font-size="4.80">5</tspan></text>
<line x1="424.40" y1="212.55" x2="426.90" y2="212.55" stroke="#000" stroke-width="1.1" />
<text x="428.00" y="215.45" font-size="8">10<tspan dy="-3" font-size="4.80">4</tspan></text>
<line x1="424.40" y1="233.10" x2="426.90" y2="233.10" stroke="#000" stroke-width="1.1" />
<text x="428.00" y="236.00" font-size="8">10<tspan dy="-3" font-size="4.80">3</tspan></text>
<line x1="424.40" y1="253.65" x2="426.90" y2="253.65" stroke="#000" stroke-width="1.1" />
<text x="428.00" y="256.55" font-size="8">10<tspan dy="-3" font-size="4.80">2</tspan></text>
<line x1="424.40" y1="274.20" x2="426.90" y2="274.20" stroke="#000" stroke-width="1.1" />
<text x="428.00" y="277.10" font-size="8">10<tspan dy="-3" font-size="4.80">1</tspan></text>
<line x1="424.40" y1="294.75" x2="426.90" y2="294.75" stroke="#000" stroke-width="1.1" />
<text x="428.00" y="297.65" font-size="8">10<tspan dy="-3" font-size="4.80">0</tspan></text>
<line x1="424.40" y1="315.30" x2="426.90" y2="315.30" stroke="#000" stroke-width="1.1" />
<text x="428.00" y="318.20" font-size="8">10<tspan dy="-3" font-size="4.80">-1</tspan></text>
<polyline points="336.90,312.30 341.50,311.70 346.70,310.50 351.90,308.80 357.20,306.60 361.60,304.40 366.30,301.70 370.10,298.40 373.90,295.30 377.80,291.50 381.60,287.60 385.40,282.50 389.30,276.10 393.10,269.80 396.90,265.50 400.80,259.00 404.60,252.00 408.40,244.80 412.30,237.20 416.10,229.50 419.90,220.50 423.80,207.20" fill="none" stroke="#000" stroke-width="2.0" stroke-linejoin="round" />
<rect x="380.35" y="286.35" width="2.5" height="2.5" fill="#fff" stroke="#000" stroke-width="0.3"/>
<rect x="384.15" y="281.25" width="2.5" height="2.5" fill="#fff" stroke="#000" stroke-width="0.3"/>
<rect x="388.05" y="274.85" width="2.5" height="2.5" fill="#fff" stroke="#000" stroke-width="0.3"/>
<rect x="391.85" y="268.55" width="2.5" height="2.5" fill="#fff" stroke="#000" stroke-width="0.3"/>
<rect x="395.65" y="264.25" width="2.5" height="2.5" fill="#fff" stroke="#000" stroke-width="0.3"/>
<rect x="399.55" y="257.75" width="2.5" height="2.5" fill="#fff" stroke="#000" stroke-width="0.3"/>
<rect x="403.35" y="250.75" width="2.5" height="2.5" fill="#fff" stroke="#000" stroke-width="0.3"/>
<rect x="407.15" y="243.55" width="2.5" height="2.5" fill="#fff" stroke="#000" stroke-width="0.3"/>
<rect x="411.05" y="235.95" width="2.5" height="2.5" fill="#fff" stroke="#000" stroke-width="0.3"/>
<rect x="414.85" y="228.25" width="2.5" height="2.5" fill="#fff" stroke="#000" stroke-width="0.3"/>
<rect x="418.65" y="219.25" width="2.5" height="2.5" fill="#fff" stroke="#000" stroke-width="0.3"/>
<rect x="422.55" y="205.95" width="2.5" height="2.5" fill="#fff" stroke="#000" stroke-width="0.3"/>
<polyline points="270.60,312.30 273.15,312.30 275.70,312.30 278.25,312.30 280.80,312.30 283.35,312.30 285.90,312.30 288.45,312.30 291.00,312.30 293.55,312.30 296.10,312.30 298.65,312.30 301.20,312.30 303.75,312.30 306.30,312.30 308.85,312.30 311.40,312.30 313.95,312.30 316.50,312.30 319.05,312.30 321.60,312.30 324.15,312.30 326.70,312.30 329.25,312.30 331.80,312.30 334.35,312.30 336.90,312.30 341.50,311.70" fill="none" stroke="#00FF00" stroke-width="1.3" stroke-linejoin="round" />
<polyline points="336.90,312.30 341.50,311.70 346.70,310.50 351.90,308.80 357.20,306.60 361.60,304.40 366.30,301.70 370.10,298.40 373.90,295.30 377.80,291.50 381.60,287.60 385.40,282.50 389.30,276.10 393.10,269.80 396.90,263.40 400.80,256.50 404.60,249.30 408.40,241.70 412.30,233.50 416.10,224.00 419.90,212.50 423.80,198.50" fill="none" stroke="#00FF00" stroke-width="2.0" stroke-linejoin="round" />
<circle cx="270.60" cy="312.30" r="1.35" fill="#fff" stroke="#00FF00" stroke-width="0.55"/>
<circle cx="273.15" cy="312.30" r="1.35" fill="#fff" stroke="#00FF00" stroke-width="0.55"/>
<circle cx="275.70" cy="312.30" r="1.35" fill="#fff" stroke="#00FF00" stroke-width="0.55"/>
<circle cx="278.25" cy="312.30" r="1.35" fill="#fff" stroke="#00FF00" stroke-width="0.55"/>
<circle cx="280.80" cy="312.30" r="1.35" fill="#fff" stroke="#00FF00" stroke-width="0.55"/>
<circle cx="283.35" cy="312.30" r="1.35" fill="#fff" stroke="#00FF00" stroke-width="0.55"/>
<circle cx="285.90" cy="312.30" r="1.35" fill="#fff" stroke="#00FF00" stroke-width="0.55"/>
<circle cx="288.45" cy="312.30" r="1.35" fill="#fff" stroke="#00FF00" stroke-width="0.55"/>
<circle cx="291.00" cy="312.30" r="1.35" fill="#fff" stroke="#00FF00" stroke-width="0.55"/>
<circle cx="293.55" cy="312.30" r="1.35" fill="#fff" stroke="#00FF00" stroke-width="0.55"/>
<circle cx="296.10" cy="312.30" r="1.35" fill="#fff" stroke="#00FF00" stroke-width="0.55"/>
<circle cx="298.65" cy="312.30" r="1.35" fill="#fff" stroke="#00FF00" stroke-width="0.55"/>
<circle cx="301.20" cy="312.30" r="1.35" fill="#fff" stroke="#00FF00" stroke-width="0.55"/>
<circle cx="303.75" cy="312.30" r="1.35" fill="#fff" stroke="#00FF00" stroke-width="0.55"/>
<circle cx="306.30" cy="312.30" r="1.35" fill="#fff" stroke="#00FF00" stroke-width="0.55"/>
<circle cx="308.85" cy="312.30" r="1.35" fill="#fff" stroke="#00FF00" stroke-width="0.55"/>
<circle cx="311.40" cy="312.30" r="1.35" fill="#fff" stroke="#00FF00" stroke-width="0.55"/>
<circle cx="313.95" cy="312.30" r="1.35" fill="#fff" stroke="#00FF00" stroke-width="0.55"/>
<circle cx="316.50" cy="312.30" r="1.35" fill="#fff" stroke="#00FF00" stroke-width="0.55"/>
<circle cx="319.05" cy="312.30" r="1.35" fill="#fff" stroke="#00FF00" stroke-width="0.55"/>
<circle cx="321.60" cy="312.30" r="1.35" fill="#fff" stroke="#00FF00" stroke-width="0.55"/>
<circle cx="324.15" cy="312.30" r="1.35" fill="#fff" stroke="#00FF00" stroke-width="0.55"/>
<circle cx="326.70" cy="312.30" r="1.35" fill="#fff" stroke="#00FF00" stroke-width="0.55"/>
<circle cx="329.25" cy="312.30" r="1.35" fill="#fff" stroke="#00FF00" stroke-width="0.55"/>
<circle cx="331.80" cy="312.30" r="1.35" fill="#fff" stroke="#00FF00" stroke-width="0.55"/>
<circle cx="334.35" cy="312.30" r="1.35" fill="#fff" stroke="#00FF00" stroke-width="0.55"/>
<circle cx="336.90" cy="312.30" r="1.35" fill="#fff" stroke="#00FF00" stroke-width="0.55"/>
<rect x="340.25" y="310.45" width="2.5" height="2.5" fill="#fff" stroke="#00FF00" stroke-width="0.3"/>
<rect x="345.45" y="309.25" width="2.5" height="2.5" fill="#fff" stroke="#00FF00" stroke-width="0.3"/>
<rect x="350.65" y="307.55" width="2.5" height="2.5" fill="#fff" stroke="#00FF00" stroke-width="0.3"/>
<rect x="355.95" y="305.35" width="2.5" height="2.5" fill="#fff" stroke="#00FF00" stroke-width="0.3"/>
<rect x="360.35" y="303.15" width="2.5" height="2.5" fill="#fff" stroke="#00FF00" stroke-width="0.3"/>
<rect x="365.05" y="300.45" width="2.5" height="2.5" fill="#fff" stroke="#00FF00" stroke-width="0.3"/>
<rect x="368.85" y="297.15" width="2.5" height="2.5" fill="#fff" stroke="#00FF00" stroke-width="0.3"/>
<rect x="372.65" y="294.05" width="2.5" height="2.5" fill="#fff" stroke="#00FF00" stroke-width="0.3"/>
<rect x="376.55" y="290.25" width="2.5" height="2.5" fill="#fff" stroke="#00FF00" stroke-width="0.3"/>
<rect x="380.35" y="286.35" width="2.5" height="2.5" fill="#fff" stroke="#00FF00" stroke-width="0.3"/>
<rect x="384.15" y="281.25" width="2.5" height="2.5" fill="#fff" stroke="#00FF00" stroke-width="0.3"/>
<rect x="388.05" y="274.85" width="2.5" height="2.5" fill="#fff" stroke="#00FF00" stroke-width="0.3"/>
<rect x="391.85" y="268.55" width="2.5" height="2.5" fill="#fff" stroke="#00FF00" stroke-width="0.3"/>
<rect x="395.65" y="262.15" width="2.5" height="2.5" fill="#fff" stroke="#00FF00" stroke-width="0.3"/>
<rect x="399.55" y="255.25" width="2.5" height="2.5" fill="#fff" stroke="#00FF00" stroke-width="0.3"/>
<rect x="403.35" y="248.05" width="2.5" height="2.5" fill="#fff" stroke="#00FF00" stroke-width="0.3"/>
<rect x="407.15" y="240.45" width="2.5" height="2.5" fill="#fff" stroke="#00FF00" stroke-width="0.3"/>
<rect x="411.05" y="232.25" width="2.5" height="2.5" fill="#fff" stroke="#00FF00" stroke-width="0.3"/>
<rect x="414.85" y="222.75" width="2.5" height="2.5" fill="#fff" stroke="#00FF00" stroke-width="0.3"/>
<rect x="418.65" y="211.25" width="2.5" height="2.5" fill="#fff" stroke="#00FF00" stroke-width="0.3"/>
<rect x="422.55" y="197.25" width="2.5" height="2.5" fill="#fff" stroke="#00FF00" stroke-width="0.3"/>
<rect x="298.75" y="306.85" width="3.1" height="3.1" fill="#000"/>
<rect x="302.95" y="305.35" width="3.1" height="3.1" fill="#000"/>
<rect x="310.85" y="304.65" width="3.1" height="3.1" fill="#000"/>
<rect x="314.25" y="284.55" width="3.1" height="3.1" fill="#000"/>
<rect x="318.35" y="272.05" width="3.1" height="3.1" fill="#000"/>
<rect x="322.85" y="261.85" width="3.1" height="3.1" fill="#000"/>
<rect x="327.25" y="252.35" width="3.1" height="3.1" fill="#000"/>
<rect x="331.75" y="245.55" width="3.1" height="3.1" fill="#000"/>
<rect x="336.25" y="239.55" width="3.1" height="3.1" fill="#000"/>
<rect x="340.75" y="234.55" width="3.1" height="3.1" fill="#000"/>
<rect x="345.25" y="230.15" width="3.1" height="3.1" fill="#000"/>
<rect x="349.95" y="226.15" width="3.1" height="3.1" fill="#000"/>
<rect x="354.65" y="222.55" width="3.1" height="3.1" fill="#000"/>
<polyline points="312.40,306.20 315.80,286.10 319.90,273.60 324.40,263.40 328.80,253.90 333.30,247.10 337.80,241.10 342.30,236.10 346.80,231.70 351.50,227.70 356.20,224.10" fill="none" stroke="#000" stroke-width="1.0" stroke-linejoin="round" />
<polyline points="271.30,306.60 272.60,312.80 276.50,313.00 280.60,312.80 283.10,306.20 285.50,313.00 289.50,311.50 292.00,310.40 295.50,311.00 298.00,310.10 301.00,312.00 305.00,312.30 309.00,312.20 313.30,312.30" fill="none" stroke="#00FF00" stroke-width="1.4" stroke-linejoin="round" />
<polyline points="313.30,312.30 317.20,288.20 321.70,276.40 325.60,264.70 330.00,254.80 334.50,248.00 338.80,242.10 343.30,237.20 347.80,232.80 352.50,228.70 357.10,225.00 362.00,221.40 366.40,218.30 370.80,215.90 375.40,213.50 379.80,211.00 384.20,209.00 388.80,206.90 393.10,205.10 397.70,203.60 402.00,202.10 406.60,200.80 411.00,199.80 415.60,198.70 419.90,197.70 423.80,196.90" fill="none" stroke="#00FF00" stroke-width="1.6" stroke-linejoin="round" />
<rect x="281.60" y="304.70" width="3.0" height="3.0" fill="#00FF00"/>
<rect x="290.50" y="308.90" width="3.0" height="3.0" fill="#00FF00"/>
<rect x="296.50" y="308.60" width="3.0" height="3.0" fill="#00FF00"/>
<rect x="303.50" y="310.80" width="3.0" height="3.0" fill="#00FF00"/>
<rect x="311.60" y="310.60" width="3.4" height="3.4" fill="#00FF00"/>
<rect x="315.50" y="286.50" width="3.4" height="3.4" fill="#00FF00"/>
<rect x="320.00" y="274.70" width="3.4" height="3.4" fill="#00FF00"/>
<rect x="323.90" y="263.00" width="3.4" height="3.4" fill="#00FF00"/>
<rect x="328.30" y="253.10" width="3.4" height="3.4" fill="#00FF00"/>
<rect x="332.80" y="246.30" width="3.4" height="3.4" fill="#00FF00"/>
<rect x="337.10" y="240.40" width="3.4" height="3.4" fill="#00FF00"/>
<rect x="341.60" y="235.50" width="3.4" height="3.4" fill="#00FF00"/>
<rect x="346.10" y="231.10" width="3.4" height="3.4" fill="#00FF00"/>
<rect x="350.80" y="227.00" width="3.4" height="3.4" fill="#00FF00"/>
<rect x="355.40" y="223.30" width="3.4" height="3.4" fill="#00FF00"/>
<rect x="360.30" y="219.70" width="3.4" height="3.4" fill="#00FF00"/>
<rect x="364.70" y="216.60" width="3.4" height="3.4" fill="#00FF00"/>
<rect x="369.10" y="214.20" width="3.4" height="3.4" fill="#00FF00"/>
<rect x="373.70" y="211.80" width="3.4" height="3.4" fill="#00FF00"/>
<rect x="378.10" y="209.30" width="3.4" height="3.4" fill="#00FF00"/>
<rect x="382.50" y="207.30" width="3.4" height="3.4" fill="#00FF00"/>
<rect x="387.10" y="205.20" width="3.4" height="3.4" fill="#00FF00"/>
<rect x="391.40" y="203.40" width="3.4" height="3.4" fill="#00FF00"/>
<rect x="396.00" y="201.90" width="3.4" height="3.4" fill="#00FF00"/>
<rect x="400.30" y="200.40" width="3.4" height="3.4" fill="#00FF00"/>
<rect x="404.90" y="199.10" width="3.4" height="3.4" fill="#00FF00"/>
<rect x="409.30" y="198.10" width="3.4" height="3.4" fill="#00FF00"/>
<rect x="413.90" y="197.00" width="3.4" height="3.4" fill="#00FF00"/>
<rect x="418.20" y="196.00" width="3.4" height="3.4" fill="#00FF00"/>
<rect x="422.10" y="195.20" width="3.4" height="3.4" fill="#00FF00"/>
<circle cx="270.60" cy="312.30" r="1.35" fill="#fff" stroke="#00FF00" stroke-width="0.55"/>
<circle cx="273.15" cy="312.30" r="1.35" fill="#fff" stroke="#00FF00" stroke-width="0.55"/>
<circle cx="275.70" cy="312.30" r="1.35" fill="#fff" stroke="#00FF00" stroke-width="0.55"/>
<circle cx="278.25" cy="312.30" r="1.35" fill="#fff" stroke="#00FF00" stroke-width="0.55"/>
<circle cx="280.80" cy="312.30" r="1.35" fill="#fff" stroke="#00FF00" stroke-width="0.55"/>
<circle cx="283.35" cy="312.30" r="1.35" fill="#fff" stroke="#00FF00" stroke-width="0.55"/>
<circle cx="285.90" cy="312.30" r="1.35" fill="#fff" stroke="#00FF00" stroke-width="0.55"/>
<circle cx="288.45" cy="312.30" r="1.35" fill="#fff" stroke="#00FF00" stroke-width="0.55"/>
<circle cx="291.00" cy="312.30" r="1.35" fill="#fff" stroke="#00FF00" stroke-width="0.55"/>
<circle cx="293.55" cy="312.30" r="1.35" fill="#fff" stroke="#00FF00" stroke-width="0.55"/>
<circle cx="296.10" cy="312.30" r="1.35" fill="#fff" stroke="#00FF00" stroke-width="0.55"/>
<circle cx="298.65" cy="312.30" r="1.35" fill="#fff" stroke="#00FF00" stroke-width="0.55"/>
<circle cx="301.20" cy="312.30" r="1.35" fill="#fff" stroke="#00FF00" stroke-width="0.55"/>
<circle cx="303.75" cy="312.30" r="1.35" fill="#fff" stroke="#00FF00" stroke-width="0.55"/>
<circle cx="306.30" cy="312.30" r="1.35" fill="#fff" stroke="#00FF00" stroke-width="0.55"/>
<circle cx="308.85" cy="312.30" r="1.35" fill="#fff" stroke="#00FF00" stroke-width="0.55"/>
<circle cx="311.40" cy="312.30" r="1.35" fill="#fff" stroke="#00FF00" stroke-width="0.55"/>
<circle cx="313.95" cy="312.30" r="1.35" fill="#fff" stroke="#00FF00" stroke-width="0.55"/>
<circle cx="316.50" cy="312.30" r="1.35" fill="#fff" stroke="#00FF00" stroke-width="0.55"/>
<circle cx="319.05" cy="312.30" r="1.35" fill="#fff" stroke="#00FF00" stroke-width="0.55"/>
<circle cx="321.60" cy="312.30" r="1.35" fill="#fff" stroke="#00FF00" stroke-width="0.55"/>
<circle cx="324.15" cy="312.30" r="1.35" fill="#fff" stroke="#00FF00" stroke-width="0.55"/>
<circle cx="326.70" cy="312.30" r="1.35" fill="#fff" stroke="#00FF00" stroke-width="0.55"/>
<circle cx="329.25" cy="312.30" r="1.35" fill="#fff" stroke="#00FF00" stroke-width="0.55"/>
<circle cx="331.80" cy="312.30" r="1.35" fill="#fff" stroke="#00FF00" stroke-width="0.55"/>
<circle cx="334.35" cy="312.30" r="1.35" fill="#fff" stroke="#00FF00" stroke-width="0.55"/>
<circle cx="336.90" cy="312.30" r="1.35" fill="#fff" stroke="#00FF00" stroke-width="0.55"/>
<circle cx="357.60" cy="230.10" r="0.78" fill="#000"/>
<circle cx="357.52" cy="232.42" r="0.78" fill="#000"/>
<circle cx="357.26" cy="234.70" r="0.78" fill="#000"/>
<circle cx="356.80" cy="236.98" r="0.78" fill="#000"/>
<circle cx="356.10" cy="239.18" r="0.78" fill="#000"/>
<circle cx="355.02" cy="241.20" r="0.78" fill="#000"/>
<circle cx="353.27" cy="242.61" r="0.78" fill="#000"/>
<circle cx="351.13" cy="242.03" r="0.78" fill="#000"/>
<circle cx="349.77" cy="240.20" r="0.78" fill="#000"/>
<circle cx="348.90" cy="238.04" r="0.78" fill="#000"/>
<circle cx="348.33" cy="235.82" r="0.78" fill="#000"/>
<circle cx="347.99" cy="233.54" r="0.78" fill="#000"/>
<circle cx="347.82" cy="231.25" r="0.78" fill="#000"/>
<circle cx="347.82" cy="228.91" r="0.78" fill="#000"/>
<circle cx="347.99" cy="226.62" r="0.78" fill="#000"/>
<circle cx="348.34" cy="224.34" r="0.78" fill="#000"/>
<circle cx="348.90" cy="222.13" r="0.78" fill="#000"/>
<circle cx="349.78" cy="219.98" r="0.78" fill="#000"/>
<circle cx="351.14" cy="218.15" r="0.78" fill="#000"/>
<circle cx="353.28" cy="217.59" r="0.78" fill="#000"/>
<circle cx="355.03" cy="219.02" r="0.78" fill="#000"/>
<circle cx="356.11" cy="221.05" r="0.78" fill="#000"/>
<circle cx="356.81" cy="223.25" r="0.78" fill="#000"/>
<circle cx="357.27" cy="225.54" r="0.78" fill="#000"/>
<circle cx="357.52" cy="227.82" r="0.78" fill="#000"/>
<line x1="362.00" y1="227.30" x2="376.30" y2="227.30" stroke="#000" stroke-width="1.4" />
<polygon points="379.30,227.30 373.80,224.90 373.80,229.70" fill="#000" />
<circle cx="394.30" cy="275.80" r="0.78" fill="#000"/>
<circle cx="394.22" cy="278.09" r="0.78" fill="#000"/>
<circle cx="393.98" cy="280.33" r="0.78" fill="#000"/>
<circle cx="393.54" cy="282.54" r="0.78" fill="#000"/>
<circle cx="392.88" cy="284.68" r="0.78" fill="#000"/>
<circle cx="391.85" cy="286.68" r="0.78" fill="#000"/>
<circle cx="390.15" cy="288.12" r="0.78" fill="#000"/>
<circle cx="388.08" cy="287.53" r="0.78" fill="#000"/>
<circle cx="386.77" cy="285.69" r="0.78" fill="#000"/>
<circle cx="385.94" cy="283.58" r="0.78" fill="#000"/>
<circle cx="385.41" cy="281.39" r="0.78" fill="#000"/>
<circle cx="385.07" cy="279.15" r="0.78" fill="#000"/>
<circle cx="384.92" cy="276.93" r="0.78" fill="#000"/>
<circle cx="384.92" cy="274.63" r="0.78" fill="#000"/>
<circle cx="385.08" cy="272.42" r="0.78" fill="#000"/>
<circle cx="385.41" cy="270.17" r="0.78" fill="#000"/>
<circle cx="385.95" cy="267.99" r="0.78" fill="#000"/>
<circle cx="386.78" cy="265.88" r="0.78" fill="#000"/>
<circle cx="388.09" cy="264.06" r="0.78" fill="#000"/>
<circle cx="390.16" cy="263.49" r="0.78" fill="#000"/>
<circle cx="391.86" cy="264.93" r="0.78" fill="#000"/>
<circle cx="392.89" cy="266.95" r="0.78" fill="#000"/>
<circle cx="393.55" cy="269.09" r="0.78" fill="#000"/>
<circle cx="393.98" cy="271.31" r="0.78" fill="#000"/>
<circle cx="394.22" cy="273.55" r="0.78" fill="#000"/>
<line x1="379.70" y1="276.40" x2="366.00" y2="276.40" stroke="#000" stroke-width="1.4" />
<polygon points="363.00,276.40 368.50,274.00 368.50,278.80" fill="#000" />
<line x1="276.20" y1="198.00" x2="292.70" y2="198.00" stroke="#000" stroke-width="1.8" />
<rect x="282.80" y="196.40" width="3.2" height="3.2" fill="#000"/>
<line x1="297.20" y1="198.00" x2="313.70" y2="198.00" stroke="#000" stroke-width="1.8" />
<rect x="304.00" y="196.80" width="2.4" height="2.4" fill="#fff" stroke="#000" stroke-width="0.6"/>
<line x1="276.20" y1="206.60" x2="292.70" y2="206.60" stroke="#00FF00" stroke-width="1.8" />
<rect x="282.80" y="205.00" width="3.2" height="3.2" fill="#00FF00"/>
<line x1="297.20" y1="206.60" x2="313.70" y2="206.60" stroke="#00FF00" stroke-width="1.8" />
<rect x="304.00" y="205.40" width="2.4" height="2.4" fill="#fff" stroke="#00FF00" stroke-width="0.6"/>
<text x="316.40" y="200.90" font-size="8.1" text-anchor="start" fill="#000" >Pristine</text>
<text x="316.40" y="209.50" font-size="8.1" text-anchor="start" fill="#00FF00" >Crosslinked</text>
<text x="228.00" y="209.80" font-size="25" text-anchor="start" fill="#000" >d</text>
<text x="347.30" y="339.60" font-size="10.7" text-anchor="middle" fill="#000" >Voltage (V)</text>
<text x="255.60" y="312.90" font-size="10.6" text-anchor="start" transform="rotate(-90 255.60 312.90)">Current density (mA cm<tspan dy="-3.18" font-size="5.83">-2</tspan><tspan dy="3.18">)</tspan></text>
<text x="453.00" y="300.20" font-size="11.1" text-anchor="start" transform="rotate(-90 453.00 300.20)">Luminance (Cd m<tspan dy="-4.44" font-size="9.43">-2</tspan><tspan dy="4.44">)</tspan></text>
<rect x="498.00" y="192.00" width="154.00" height="123.70" fill="none" stroke="#000" stroke-width="1.65"/>
<line x1="498.10" y1="315.70" x2="498.10" y2="318.70" stroke="#000" stroke-width="1.1" />
<text x="498.10" y="327.00" font-size="8" text-anchor="middle" fill="#000" >0</text>
<line x1="508.33" y1="315.70" x2="508.33" y2="317.70" stroke="#000" stroke-width="1.0" />
<line x1="518.55" y1="315.70" x2="518.55" y2="318.70" stroke="#000" stroke-width="1.1" />
<text x="518.55" y="327.00" font-size="8" text-anchor="middle" fill="#000" >1</text>
<line x1="528.77" y1="315.70" x2="528.77" y2="317.70" stroke="#000" stroke-width="1.0" />
<line x1="539.00" y1="315.70" x2="539.00" y2="318.70" stroke="#000" stroke-width="1.1" />
<text x="539.00" y="327.00" font-size="8" text-anchor="middle" fill="#000" >2</text>
<line x1="549.23" y1="315.70" x2="549.23" y2="317.70" stroke="#000" stroke-width="1.0" />
<line x1="559.45" y1="315.70" x2="559.45" y2="318.70" stroke="#000" stroke-width="1.1" />
<text x="559.45" y="327.00" font-size="8" text-anchor="middle" fill="#000" >3</text>
<line x1="569.68" y1="315.70" x2="569.68" y2="317.70" stroke="#000" stroke-width="1.0" />
<line x1="579.90" y1="315.70" x2="579.90" y2="318.70" stroke="#000" stroke-width="1.1" />
<text x="579.90" y="327.00" font-size="8" text-anchor="middle" fill="#000" >4</text>
<line x1="590.12" y1="315.70" x2="590.12" y2="317.70" stroke="#000" stroke-width="1.0" />
<line x1="600.35" y1="315.70" x2="600.35" y2="318.70" stroke="#000" stroke-width="1.1" />
<text x="600.35" y="327.00" font-size="8" text-anchor="middle" fill="#000" >5</text>
<line x1="610.58" y1="315.70" x2="610.58" y2="317.70" stroke="#000" stroke-width="1.0" />
<line x1="620.80" y1="315.70" x2="620.80" y2="318.70" stroke="#000" stroke-width="1.1" />
<text x="620.80" y="327.00" font-size="8" text-anchor="middle" fill="#000" >6</text>
<line x1="631.02" y1="315.70" x2="631.02" y2="317.70" stroke="#000" stroke-width="1.0" />
<line x1="641.25" y1="315.70" x2="641.25" y2="318.70" stroke="#000" stroke-width="1.1" />
<text x="641.25" y="327.00" font-size="8" text-anchor="middle" fill="#000" >7</text>
<line x1="651.48" y1="315.70" x2="651.48" y2="317.70" stroke="#000" stroke-width="1.0" />
<line x1="495.00" y1="312.30" x2="498.00" y2="312.30" stroke="#000" stroke-width="1.1" />
<text x="493.70" y="315.20" font-size="8" text-anchor="end" fill="#000" >0</text>
<line x1="495.00" y1="293.80" x2="498.00" y2="293.80" stroke="#000" stroke-width="1.1" />
<text x="493.70" y="296.70" font-size="8" text-anchor="end" fill="#000" >10</text>
<line x1="495.00" y1="275.30" x2="498.00" y2="275.30" stroke="#000" stroke-width="1.1" />
<text x="493.70" y="278.20" font-size="8" text-anchor="end" fill="#000" >20</text>
<line x1="495.00" y1="256.80" x2="498.00" y2="256.80" stroke="#000" stroke-width="1.1" />
<text x="493.70" y="259.70" font-size="8" text-anchor="end" fill="#000" >30</text>
<line x1="495.00" y1="238.30" x2="498.00" y2="238.30" stroke="#000" stroke-width="1.1" />
<text x="493.70" y="241.20" font-size="8" text-anchor="end" fill="#000" >40</text>
<line x1="495.00" y1="219.80" x2="498.00" y2="219.80" stroke="#000" stroke-width="1.1" />
<text x="493.70" y="222.70" font-size="8" text-anchor="end" fill="#000" >50</text>
<line x1="495.00" y1="201.30" x2="498.00" y2="201.30" stroke="#000" stroke-width="1.1" />
<text x="493.70" y="204.20" font-size="8" text-anchor="end" fill="#000" >60</text>
<line x1="652.00" y1="192.00" x2="654.50" y2="192.00" stroke="#000" stroke-width="1.1" />
<text x="655.60" y="194.90" font-size="8">10<tspan dy="-3" font-size="4.80">4</tspan></text>
<line x1="652.00" y1="211.43" x2="654.50" y2="211.43" stroke="#000" stroke-width="1.1" />
<text x="655.60" y="214.33" font-size="8">10<tspan dy="-3" font-size="4.80">3</tspan></text>
<line x1="652.00" y1="230.86" x2="654.50" y2="230.86" stroke="#000" stroke-width="1.1" />
<text x="655.60" y="233.76" font-size="8">10<tspan dy="-3" font-size="4.80">2</tspan></text>
<line x1="652.00" y1="250.29" x2="654.50" y2="250.29" stroke="#000" stroke-width="1.1" />
<text x="655.60" y="253.19" font-size="8">10<tspan dy="-3" font-size="4.80">1</tspan></text>
<line x1="652.00" y1="269.72" x2="654.50" y2="269.72" stroke="#000" stroke-width="1.1" />
<text x="655.60" y="272.62" font-size="8">10<tspan dy="-3" font-size="4.80">0</tspan></text>
<line x1="652.00" y1="289.15" x2="654.50" y2="289.15" stroke="#000" stroke-width="1.1" />
<text x="655.60" y="292.05" font-size="8">10<tspan dy="-3" font-size="4.80">-1</tspan></text>
<line x1="652.00" y1="308.58" x2="654.50" y2="308.58" stroke="#000" stroke-width="1.1" />
<text x="655.60" y="311.48" font-size="8">10<tspan dy="-3" font-size="4.80">-2</tspan></text>
<polyline points="566.10,311.80 571.60,309.70 576.90,308.90 582.20,307.80 586.20,307.00 590.20,305.60 594.20,303.90 598.20,301.90 602.10,299.60 606.10,296.40 610.10,293.20 614.10,289.80 618.00,285.30 622.00,280.50 626.00,274.70 630.00,268.00 634.00,260.60 638.00,252.60 641.90,243.40 645.90,232.70 649.40,222.10" fill="none" stroke="#000" stroke-width="2.0" stroke-linejoin="round" />
<rect x="584.95" y="305.75" width="2.5" height="2.5" fill="#fff" stroke="#000" stroke-width="0.3"/>
<rect x="588.95" y="304.35" width="2.5" height="2.5" fill="#fff" stroke="#000" stroke-width="0.3"/>
<rect x="592.95" y="302.65" width="2.5" height="2.5" fill="#fff" stroke="#000" stroke-width="0.3"/>
<rect x="596.95" y="300.65" width="2.5" height="2.5" fill="#fff" stroke="#000" stroke-width="0.3"/>
<rect x="600.85" y="298.35" width="2.5" height="2.5" fill="#fff" stroke="#000" stroke-width="0.3"/>
<rect x="604.85" y="295.15" width="2.5" height="2.5" fill="#fff" stroke="#000" stroke-width="0.3"/>
<rect x="608.85" y="291.95" width="2.5" height="2.5" fill="#fff" stroke="#000" stroke-width="0.3"/>
<rect x="612.85" y="288.55" width="2.5" height="2.5" fill="#fff" stroke="#000" stroke-width="0.3"/>
<rect x="616.75" y="284.05" width="2.5" height="2.5" fill="#fff" stroke="#000" stroke-width="0.3"/>
<rect x="620.75" y="279.25" width="2.5" height="2.5" fill="#fff" stroke="#000" stroke-width="0.3"/>
<rect x="624.75" y="273.45" width="2.5" height="2.5" fill="#fff" stroke="#000" stroke-width="0.3"/>
<rect x="628.75" y="266.75" width="2.5" height="2.5" fill="#fff" stroke="#000" stroke-width="0.3"/>
<rect x="632.75" y="259.35" width="2.5" height="2.5" fill="#fff" stroke="#000" stroke-width="0.3"/>
<rect x="636.75" y="251.35" width="2.5" height="2.5" fill="#fff" stroke="#000" stroke-width="0.3"/>
<rect x="640.65" y="242.15" width="2.5" height="2.5" fill="#fff" stroke="#000" stroke-width="0.3"/>
<rect x="644.65" y="231.45" width="2.5" height="2.5" fill="#fff" stroke="#000" stroke-width="0.3"/>
<rect x="648.15" y="220.85" width="2.5" height="2.5" fill="#fff" stroke="#000" stroke-width="0.3"/>
<polyline points="498.50,311.80 501.10,311.80 503.70,311.80 506.30,311.80 508.90,311.80 511.50,311.80 514.10,311.80 516.70,311.80 519.30,311.80 521.90,311.80 524.50,311.80 527.10,311.80 529.70,311.80 532.30,311.80 534.90,311.80 537.50,311.80 540.10,311.80 542.70,311.80 545.30,311.80 547.90,311.80 550.50,311.80 553.10,311.80 555.70,311.80 558.30,311.80 560.90,311.80 563.50,311.80 566.10,311.80 571.60,309.70" fill="none" stroke="#0000FF" stroke-width="1.3" stroke-linejoin="round" />
<polyline points="566.10,311.80 571.60,309.70 576.90,308.90 582.20,307.80 586.20,306.20 590.20,304.40 594.20,302.20 598.20,299.60 602.10,296.40 606.10,292.40 610.10,288.40 614.10,283.70 618.00,278.40 622.00,272.50 626.00,265.90 630.00,258.70 634.00,251.30 638.00,242.00 641.90,232.70 645.90,222.10 649.40,211.50" fill="none" stroke="#0000FF" stroke-width="2.0" stroke-linejoin="round" />
<circle cx="498.50" cy="311.80" r="1.35" fill="#fff" stroke="#0000FF" stroke-width="0.55"/>
<circle cx="501.10" cy="311.80" r="1.35" fill="#fff" stroke="#0000FF" stroke-width="0.55"/>
<circle cx="503.70" cy="311.80" r="1.35" fill="#fff" stroke="#0000FF" stroke-width="0.55"/>
<circle cx="506.30" cy="311.80" r="1.35" fill="#fff" stroke="#0000FF" stroke-width="0.55"/>
<circle cx="508.90" cy="311.80" r="1.35" fill="#fff" stroke="#0000FF" stroke-width="0.55"/>
<circle cx="511.50" cy="311.80" r="1.35" fill="#fff" stroke="#0000FF" stroke-width="0.55"/>
<circle cx="514.10" cy="311.80" r="1.35" fill="#fff" stroke="#0000FF" stroke-width="0.55"/>
<circle cx="516.70" cy="311.80" r="1.35" fill="#fff" stroke="#0000FF" stroke-width="0.55"/>
<circle cx="519.30" cy="311.80" r="1.35" fill="#fff" stroke="#0000FF" stroke-width="0.55"/>
<circle cx="521.90" cy="311.80" r="1.35" fill="#fff" stroke="#0000FF" stroke-width="0.55"/>
<circle cx="524.50" cy="311.80" r="1.35" fill="#fff" stroke="#0000FF" stroke-width="0.55"/>
<circle cx="527.10" cy="311.80" r="1.35" fill="#fff" stroke="#0000FF" stroke-width="0.55"/>
<circle cx="529.70" cy="311.80" r="1.35" fill="#fff" stroke="#0000FF" stroke-width="0.55"/>
<circle cx="532.30" cy="311.80" r="1.35" fill="#fff" stroke="#0000FF" stroke-width="0.55"/>
<circle cx="534.90" cy="311.80" r="1.35" fill="#fff" stroke="#0000FF" stroke-width="0.55"/>
<circle cx="537.50" cy="311.80" r="1.35" fill="#fff" stroke="#0000FF" stroke-width="0.55"/>
<circle cx="540.10" cy="311.80" r="1.35" fill="#fff" stroke="#0000FF" stroke-width="0.55"/>
<circle cx="542.70" cy="311.80" r="1.35" fill="#fff" stroke="#0000FF" stroke-width="0.55"/>
<circle cx="545.30" cy="311.80" r="1.35" fill="#fff" stroke="#0000FF" stroke-width="0.55"/>
<circle cx="547.90" cy="311.80" r="1.35" fill="#fff" stroke="#0000FF" stroke-width="0.55"/>
<circle cx="550.50" cy="311.80" r="1.35" fill="#fff" stroke="#0000FF" stroke-width="0.55"/>
<circle cx="553.10" cy="311.80" r="1.35" fill="#fff" stroke="#0000FF" stroke-width="0.55"/>
<circle cx="555.70" cy="311.80" r="1.35" fill="#fff" stroke="#0000FF" stroke-width="0.55"/>
<circle cx="558.30" cy="311.80" r="1.35" fill="#fff" stroke="#0000FF" stroke-width="0.55"/>
<circle cx="560.90" cy="311.80" r="1.35" fill="#fff" stroke="#0000FF" stroke-width="0.55"/>
<circle cx="563.50" cy="311.80" r="1.35" fill="#fff" stroke="#0000FF" stroke-width="0.55"/>
<circle cx="566.10" cy="311.80" r="1.35" fill="#fff" stroke="#0000FF" stroke-width="0.55"/>
<rect x="570.35" y="308.45" width="2.5" height="2.5" fill="#fff" stroke="#0000FF" stroke-width="0.3"/>
<rect x="575.65" y="307.65" width="2.5" height="2.5" fill="#fff" stroke="#0000FF" stroke-width="0.3"/>
<rect x="580.95" y="306.55" width="2.5" height="2.5" fill="#fff" stroke="#0000FF" stroke-width="0.3"/>
<rect x="584.95" y="304.95" width="2.5" height="2.5" fill="#fff" stroke="#0000FF" stroke-width="0.3"/>
<rect x="588.95" y="303.15" width="2.5" height="2.5" fill="#fff" stroke="#0000FF" stroke-width="0.3"/>
<rect x="592.95" y="300.95" width="2.5" height="2.5" fill="#fff" stroke="#0000FF" stroke-width="0.3"/>
<rect x="596.95" y="298.35" width="2.5" height="2.5" fill="#fff" stroke="#0000FF" stroke-width="0.3"/>
<rect x="600.85" y="295.15" width="2.5" height="2.5" fill="#fff" stroke="#0000FF" stroke-width="0.3"/>
<rect x="604.85" y="291.15" width="2.5" height="2.5" fill="#fff" stroke="#0000FF" stroke-width="0.3"/>
<rect x="608.85" y="287.15" width="2.5" height="2.5" fill="#fff" stroke="#0000FF" stroke-width="0.3"/>
<rect x="612.85" y="282.45" width="2.5" height="2.5" fill="#fff" stroke="#0000FF" stroke-width="0.3"/>
<rect x="616.75" y="277.15" width="2.5" height="2.5" fill="#fff" stroke="#0000FF" stroke-width="0.3"/>
<rect x="620.75" y="271.25" width="2.5" height="2.5" fill="#fff" stroke="#0000FF" stroke-width="0.3"/>
<rect x="624.75" y="264.65" width="2.5" height="2.5" fill="#fff" stroke="#0000FF" stroke-width="0.3"/>
<rect x="628.75" y="257.45" width="2.5" height="2.5" fill="#fff" stroke="#0000FF" stroke-width="0.3"/>
<rect x="632.75" y="250.05" width="2.5" height="2.5" fill="#fff" stroke="#0000FF" stroke-width="0.3"/>
<rect x="636.75" y="240.75" width="2.5" height="2.5" fill="#fff" stroke="#0000FF" stroke-width="0.3"/>
<rect x="640.65" y="231.45" width="2.5" height="2.5" fill="#fff" stroke="#0000FF" stroke-width="0.3"/>
<rect x="644.65" y="220.85" width="2.5" height="2.5" fill="#fff" stroke="#0000FF" stroke-width="0.3"/>
<rect x="648.15" y="210.25" width="2.5" height="2.5" fill="#fff" stroke="#0000FF" stroke-width="0.3"/>
<polyline points="498.60,304.40 500.10,312.60 503.20,312.40 508.30,303.40 513.40,299.80 517.50,312.60 523.60,308.50 528.70,308.00 533.90,301.40 539.00,301.10 544.10,302.40 549.20,300.80 554.30,297.30 559.40,289.40 564.70,278.30 569.70,267.60 575.00,258.10 579.50,250.50 584.90,243.40 590.20,238.00 595.50,233.50 600.80,229.60 606.10,226.10 611.40,222.90 616.70,220.00 622.00,217.40 627.30,215.00 632.60,212.90 637.90,211.00 643.20,208.90 649.40,206.80" fill="none" stroke="#222" stroke-width="1.0" stroke-linejoin="round" />
<rect x="498.35" y="310.85" width="3.5" height="3.5" fill="#000"/>
<rect x="501.45" y="310.65" width="3.5" height="3.5" fill="#000"/>
<rect x="506.55" y="301.65" width="3.5" height="3.5" fill="#000"/>
<rect x="511.65" y="298.05" width="3.5" height="3.5" fill="#000"/>
<rect x="515.75" y="310.85" width="3.5" height="3.5" fill="#000"/>
<rect x="521.85" y="306.75" width="3.5" height="3.5" fill="#000"/>
<rect x="526.95" y="306.25" width="3.5" height="3.5" fill="#000"/>
<rect x="532.15" y="299.65" width="3.5" height="3.5" fill="#000"/>
<rect x="537.25" y="299.35" width="3.5" height="3.5" fill="#000"/>
<rect x="542.35" y="300.65" width="3.5" height="3.5" fill="#000"/>
<rect x="547.45" y="299.05" width="3.5" height="3.5" fill="#000"/>
<rect x="552.55" y="295.55" width="3.5" height="3.5" fill="#000"/>
<rect x="557.65" y="287.65" width="3.5" height="3.5" fill="#000"/>
<rect x="562.95" y="276.55" width="3.5" height="3.5" fill="#000"/>
<rect x="567.95" y="265.85" width="3.5" height="3.5" fill="#000"/>
<rect x="573.25" y="256.35" width="3.5" height="3.5" fill="#000"/>
<rect x="577.75" y="248.75" width="3.5" height="3.5" fill="#000"/>
<rect x="583.15" y="241.65" width="3.5" height="3.5" fill="#000"/>
<rect x="588.45" y="236.25" width="3.5" height="3.5" fill="#000"/>
<rect x="593.75" y="231.75" width="3.5" height="3.5" fill="#000"/>
<rect x="599.05" y="227.85" width="3.5" height="3.5" fill="#000"/>
<rect x="604.35" y="224.35" width="3.5" height="3.5" fill="#000"/>
<rect x="609.65" y="221.15" width="3.5" height="3.5" fill="#000"/>
<rect x="614.95" y="218.25" width="3.5" height="3.5" fill="#000"/>
<rect x="620.25" y="215.65" width="3.5" height="3.5" fill="#000"/>
<rect x="625.55" y="213.25" width="3.5" height="3.5" fill="#000"/>
<rect x="630.85" y="211.15" width="3.5" height="3.5" fill="#000"/>
<rect x="636.15" y="209.25" width="3.5" height="3.5" fill="#000"/>
<rect x="641.45" y="207.15" width="3.5" height="3.5" fill="#000"/>
<rect x="647.65" y="205.05" width="3.5" height="3.5" fill="#000"/>
<polyline points="499.10,312.60 503.20,312.80 506.00,314.30 513.40,314.40 518.50,314.30 523.60,314.40 528.70,314.30 533.90,314.40 539.00,314.30 544.10,314.30 549.20,313.00" fill="none" stroke="#0000FF" stroke-width="1.4" stroke-linejoin="round" />
<polyline points="549.20,313.00 554.30,295.00 559.40,278.00 564.70,264.80 569.70,255.40 575.10,247.90 580.40,241.50 585.70,235.90 591.00,231.40 596.30,227.40 601.60,224.00 606.90,220.80 612.20,218.20 617.50,215.50 622.80,213.40 628.10,211.50 633.40,209.70 638.70,208.10 644.00,206.80 649.40,204.90" fill="none" stroke="#0000FF" stroke-width="1.6" stroke-linejoin="round" />
<rect x="497.35" y="310.85" width="3.5" height="3.5" fill="#0000FF"/>
<rect x="501.45" y="311.05" width="3.5" height="3.5" fill="#0000FF"/>
<rect x="547.45" y="311.25" width="3.5" height="3.5" fill="#0000FF"/>
<rect x="552.55" y="293.25" width="3.5" height="3.5" fill="#0000FF"/>
<rect x="557.65" y="276.25" width="3.5" height="3.5" fill="#0000FF"/>
<rect x="562.95" y="263.05" width="3.5" height="3.5" fill="#0000FF"/>
<rect x="567.95" y="253.65" width="3.5" height="3.5" fill="#0000FF"/>
<rect x="573.35" y="246.15" width="3.5" height="3.5" fill="#0000FF"/>
<rect x="578.65" y="239.75" width="3.5" height="3.5" fill="#0000FF"/>
<rect x="583.95" y="234.15" width="3.5" height="3.5" fill="#0000FF"/>
<rect x="589.25" y="229.65" width="3.5" height="3.5" fill="#0000FF"/>
<rect x="594.55" y="225.65" width="3.5" height="3.5" fill="#0000FF"/>
<rect x="599.85" y="222.25" width="3.5" height="3.5" fill="#0000FF"/>
<rect x="605.15" y="219.05" width="3.5" height="3.5" fill="#0000FF"/>
<rect x="610.45" y="216.45" width="3.5" height="3.5" fill="#0000FF"/>
<rect x="615.75" y="213.75" width="3.5" height="3.5" fill="#0000FF"/>
<rect x="621.05" y="211.65" width="3.5" height="3.5" fill="#0000FF"/>
<rect x="626.35" y="209.75" width="3.5" height="3.5" fill="#0000FF"/>
<rect x="631.65" y="207.95" width="3.5" height="3.5" fill="#0000FF"/>
<rect x="636.95" y="206.35" width="3.5" height="3.5" fill="#0000FF"/>
<rect x="642.25" y="205.05" width="3.5" height="3.5" fill="#0000FF"/>
<rect x="647.65" y="203.15" width="3.5" height="3.5" fill="#0000FF"/>
<circle cx="589.00" cy="241.40" r="0.78" fill="#000"/>
<circle cx="588.92" cy="243.72" r="0.78" fill="#000"/>
<circle cx="588.68" cy="245.96" r="0.78" fill="#000"/>
<circle cx="588.25" cy="248.22" r="0.78" fill="#000"/>
<circle cx="587.58" cy="250.42" r="0.78" fill="#000"/>
<circle cx="586.56" cy="252.44" r="0.78" fill="#000"/>
<circle cx="584.86" cy="253.91" r="0.78" fill="#000"/>
<circle cx="582.76" cy="253.31" r="0.78" fill="#000"/>
<circle cx="581.45" cy="251.43" r="0.78" fill="#000"/>
<circle cx="580.64" cy="249.31" r="0.78" fill="#000"/>
<circle cx="580.11" cy="247.08" r="0.78" fill="#000"/>
<circle cx="579.77" cy="244.80" r="0.78" fill="#000"/>
<circle cx="579.62" cy="242.51" r="0.78" fill="#000"/>
<circle cx="579.62" cy="240.25" r="0.78" fill="#000"/>
<circle cx="579.78" cy="237.96" r="0.78" fill="#000"/>
<circle cx="580.11" cy="235.68" r="0.78" fill="#000"/>
<circle cx="580.65" cy="233.46" r="0.78" fill="#000"/>
<circle cx="581.47" cy="231.35" r="0.78" fill="#000"/>
<circle cx="582.78" cy="229.48" r="0.78" fill="#000"/>
<circle cx="584.87" cy="228.89" r="0.78" fill="#000"/>
<circle cx="586.58" cy="230.38" r="0.78" fill="#000"/>
<circle cx="587.59" cy="232.41" r="0.78" fill="#000"/>
<circle cx="588.26" cy="234.62" r="0.78" fill="#000"/>
<circle cx="588.69" cy="236.87" r="0.78" fill="#000"/>
<circle cx="588.92" cy="239.12" r="0.78" fill="#000"/>
<line x1="592.90" y1="242.00" x2="607.10" y2="242.00" stroke="#000" stroke-width="1.4" />
<polygon points="610.10,242.00 604.60,239.60 604.60,244.40" fill="#000" />
<circle cx="615.80" cy="283.10" r="0.78" fill="#000"/>
<circle cx="615.72" cy="285.42" r="0.78" fill="#000"/>
<circle cx="615.47" cy="287.70" r="0.78" fill="#000"/>
<circle cx="615.03" cy="289.95" r="0.78" fill="#000"/>
<circle cx="614.34" cy="292.15" r="0.78" fill="#000"/>
<circle cx="613.29" cy="294.18" r="0.78" fill="#000"/>
<circle cx="611.56" cy="295.61" r="0.78" fill="#000"/>
<circle cx="609.45" cy="295.02" r="0.78" fill="#000"/>
<circle cx="608.11" cy="293.15" r="0.78" fill="#000"/>
<circle cx="607.27" cy="291.04" r="0.78" fill="#000"/>
<circle cx="606.72" cy="288.78" r="0.78" fill="#000"/>
<circle cx="606.38" cy="286.54" r="0.78" fill="#000"/>
<circle cx="606.22" cy="284.25" r="0.78" fill="#000"/>
<circle cx="606.22" cy="281.91" r="0.78" fill="#000"/>
<circle cx="606.39" cy="279.62" r="0.78" fill="#000"/>
<circle cx="606.72" cy="277.38" r="0.78" fill="#000"/>
<circle cx="607.28" cy="275.13" r="0.78" fill="#000"/>
<circle cx="608.12" cy="273.02" r="0.78" fill="#000"/>
<circle cx="609.46" cy="271.17" r="0.78" fill="#000"/>
<circle cx="611.57" cy="270.59" r="0.78" fill="#000"/>
<circle cx="613.30" cy="272.04" r="0.78" fill="#000"/>
<circle cx="614.35" cy="274.08" r="0.78" fill="#000"/>
<circle cx="615.04" cy="276.28" r="0.78" fill="#000"/>
<circle cx="615.47" cy="278.54" r="0.78" fill="#000"/>
<circle cx="615.72" cy="280.82" r="0.78" fill="#000"/>
<line x1="602.10" y1="284.00" x2="587.90" y2="284.00" stroke="#000" stroke-width="1.4" />
<polygon points="584.90,284.00 590.40,281.60 590.40,286.40" fill="#000" />
<line x1="502.00" y1="199.30" x2="518.50" y2="199.30" stroke="#000" stroke-width="1.8" />
<rect x="508.60" y="197.70" width="3.2" height="3.2" fill="#000"/>
<line x1="523.00" y1="199.30" x2="539.50" y2="199.30" stroke="#000" stroke-width="1.8" />
<rect x="529.80" y="198.10" width="2.4" height="2.4" fill="#fff" stroke="#000" stroke-width="0.6"/>
<line x1="502.00" y1="206.60" x2="518.50" y2="206.60" stroke="#0000FF" stroke-width="1.8" />
<rect x="508.60" y="205.00" width="3.2" height="3.2" fill="#0000FF"/>
<line x1="523.00" y1="206.60" x2="539.50" y2="206.60" stroke="#0000FF" stroke-width="1.8" />
<rect x="529.80" y="205.40" width="2.4" height="2.4" fill="#fff" stroke="#0000FF" stroke-width="0.6"/>
<text x="542.00" y="202.20" font-size="8.1" text-anchor="start" fill="#000" >Pristine</text>
<text x="542.00" y="209.50" font-size="8.1" text-anchor="start" fill="#0000FF" >Crosslinked</text>
<text x="456.00" y="206.60" font-size="25" text-anchor="start" fill="#000" >e</text>
<text x="574.80" y="339.60" font-size="10.7" text-anchor="middle" fill="#000" >Voltage (V)</text>
<text x="483.20" y="312.90" font-size="10.6" text-anchor="start" transform="rotate(-90 483.20 312.90)">Current density (mA cm<tspan dy="-3.18" font-size="5.83">-2</tspan><tspan dy="3.18">)</tspan></text>
<text x="681.00" y="300.60" font-size="10.75" text-anchor="start" transform="rotate(-90 681.00 300.60)">Luminance (Cd m<tspan dy="-4.30" font-size="9.14">-2</tspan><tspan dy="4.30">)</tspan></text>
<rect x="41.80" y="357.40" width="153.80" height="124.20" fill="none" stroke="#000" stroke-width="1.6"/>
<line x1="39.30" y1="481.30" x2="41.80" y2="481.30" stroke="#000" stroke-width="1.1" />
<text x="39.50" y="484.20" font-size="8" text-anchor="end" fill="#000" >0</text>
<line x1="39.30" y1="460.59" x2="41.80" y2="460.59" stroke="#000" stroke-width="1.1" />
<text x="39.50" y="463.49" font-size="8" text-anchor="end" fill="#000" >5</text>
<line x1="39.30" y1="439.87" x2="41.80" y2="439.87" stroke="#000" stroke-width="1.1" />
<text x="39.50" y="442.77" font-size="8" text-anchor="end" fill="#000" >10</text>
<line x1="39.30" y1="419.16" x2="41.80" y2="419.16" stroke="#000" stroke-width="1.1" />
<text x="39.50" y="422.06" font-size="8" text-anchor="end" fill="#000" >15</text>
<line x1="39.30" y1="398.44" x2="41.80" y2="398.44" stroke="#000" stroke-width="1.1" />
<text x="39.50" y="401.34" font-size="8" text-anchor="end" fill="#000" >20</text>
<line x1="39.30" y1="377.73" x2="41.80" y2="377.73" stroke="#000" stroke-width="1.1" />
<text x="39.50" y="380.62" font-size="8" text-anchor="end" fill="#000" >25</text>
<line x1="39.30" y1="357.01" x2="41.80" y2="357.01" stroke="#000" stroke-width="1.1" />
<text x="39.50" y="359.91" font-size="8" text-anchor="end" fill="#000" >30</text>
<line x1="42.00" y1="481.60" x2="42.00" y2="484.60" stroke="#000" stroke-width="1.1" />
<text x="42.00" y="492.30" font-size="8" text-anchor="middle" fill="#000" >0</text>
<line x1="75.06" y1="481.60" x2="75.06" y2="484.60" stroke="#000" stroke-width="1.1" />
<text x="75.06" y="492.30" font-size="8" text-anchor="middle" fill="#000" >3000</text>
<line x1="108.12" y1="481.60" x2="108.12" y2="484.60" stroke="#000" stroke-width="1.1" />
<text x="108.12" y="492.30" font-size="8" text-anchor="middle" fill="#000" >6000</text>
<line x1="141.18" y1="481.60" x2="141.18" y2="484.60" stroke="#000" stroke-width="1.1" />
<text x="141.18" y="492.30" font-size="8" text-anchor="middle" fill="#000" >9000</text>
<line x1="174.24" y1="481.60" x2="174.24" y2="484.60" stroke="#000" stroke-width="1.1" />
<text x="174.24" y="492.30" font-size="8" text-anchor="middle" fill="#000" >12000</text>
<rect x="117.40" y="448.20" width="77.50" height="32.60" fill="#000" />
<rect x="117.40" y="450.00" width="77.50" height="2.00" fill="#FF0000" />
<rect x="117.40" y="453.47" width="77.50" height="2.00" fill="#FF0000" />
<rect x="117.40" y="456.94" width="77.50" height="2.00" fill="#FF0000" />
<rect x="117.40" y="460.41" width="77.50" height="2.00" fill="#FF0000" />
<rect x="117.40" y="463.88" width="77.50" height="2.00" fill="#FF0000" />
<rect x="117.40" y="467.35" width="77.50" height="2.00" fill="#FF0000" />
<rect x="117.40" y="470.82" width="77.50" height="2.00" fill="#FF0000" />
<rect x="117.40" y="474.29" width="77.50" height="2.00" fill="#FF0000" />
<rect x="117.40" y="477.76" width="77.50" height="2.00" fill="#FF0000" />
<rect x="171.80" y="473.60" width="19.10" height="3.80" fill="#fff" />
<polyline points="42.30,470.00 42.30,463.60 42.30,444.00 42.90,424.30 44.90,414.50 47.20,410.00 53.00,405.20 60.70,401.50 71.80,397.70 85.10,396.40 101.20,395.20 119.50,394.10 139.00,393.20 159.50,393.40 181.50,393.40 195.00,393.70" fill="none" stroke="#000" stroke-width="1.1" stroke-linejoin="round" />
<rect x="43.50" y="413.10" width="2.8" height="2.8" fill="#000"/>
<rect x="45.80" y="408.60" width="2.8" height="2.8" fill="#000"/>
<rect x="51.60" y="403.80" width="2.8" height="2.8" fill="#000"/>
<rect x="59.30" y="400.10" width="2.8" height="2.8" fill="#000"/>
<rect x="70.40" y="396.30" width="2.8" height="2.8" fill="#000"/>
<rect x="83.70" y="395.00" width="2.8" height="2.8" fill="#000"/>
<rect x="99.80" y="393.80" width="2.8" height="2.8" fill="#000"/>
<rect x="118.10" y="392.70" width="2.8" height="2.8" fill="#000"/>
<rect x="137.60" y="391.80" width="2.8" height="2.8" fill="#000"/>
<rect x="158.10" y="392.00" width="2.8" height="2.8" fill="#000"/>
<rect x="180.10" y="392.00" width="2.8" height="2.8" fill="#000"/>
<polyline points="41.90,461.00 41.90,459.70 42.30,440.00 42.90,428.20 44.90,416.40 47.40,410.20 53.00,406.00 59.90,404.10 69.40,402.00 81.90,399.30 96.40,397.70 111.20,398.90 128.20,398.40 147.80,397.70 166.60,398.90 186.70,399.60 195.00,400.00" fill="none" stroke="#FF0000" stroke-width="1.5" stroke-linejoin="round" />
<rect x="46.00" y="408.80" width="2.8" height="2.8" fill="#FF0000"/>
<rect x="51.60" y="404.60" width="2.8" height="2.8" fill="#FF0000"/>
<rect x="58.50" y="402.70" width="2.8" height="2.8" fill="#FF0000"/>
<rect x="68.00" y="400.60" width="2.8" height="2.8" fill="#FF0000"/>
<rect x="80.50" y="397.90" width="2.8" height="2.8" fill="#FF0000"/>
<rect x="95.00" y="396.30" width="2.8" height="2.8" fill="#FF0000"/>
<rect x="109.80" y="397.50" width="2.8" height="2.8" fill="#FF0000"/>
<rect x="126.80" y="397.00" width="2.8" height="2.8" fill="#FF0000"/>
<rect x="146.40" y="396.30" width="2.8" height="2.8" fill="#FF0000"/>
<rect x="165.20" y="397.50" width="2.8" height="2.8" fill="#FF0000"/>
<rect x="185.30" y="398.20" width="2.8" height="2.8" fill="#FF0000"/>
<line x1="49.80" y1="363.80" x2="65.80" y2="363.80" stroke="#000" stroke-width="1.7" />
<rect x="56.20" y="362.20" width="3.2" height="3.2" fill="#000"/>
<line x1="49.80" y1="371.20" x2="65.80" y2="371.20" stroke="#FF0000" stroke-width="1.7" />
<rect x="56.20" y="369.60" width="3.2" height="3.2" fill="#FF0000"/>
<text x="72.00" y="366.70" font-size="8.1" text-anchor="start" fill="#000" >Pristine</text>
<text x="72.00" y="374.10" font-size="8.1" text-anchor="start" fill="#FF0000" >Crosslinked</text>
<text x="5.40" y="375.30" font-size="25" text-anchor="start" fill="#000" >f</text>
<text x="118.90" y="504.00" font-size="10.6" text-anchor="middle">Luminance (Cd m<tspan dy="-4.77" font-size="9.01">-2</tspan><tspan dy="4.77">)</tspan></text>
<text x="26.30" y="419.10" font-size="10.5" text-anchor="middle" fill="#000" transform="rotate(-90 26.3 419.1)" >EQE (%)</text>
<rect x="272.60" y="357.30" width="154.40" height="124.20" fill="none" stroke="#000" stroke-width="1.6"/>
<line x1="270.10" y1="481.30" x2="272.60" y2="481.30" stroke="#000" stroke-width="1.1" />
<text x="270.30" y="484.20" font-size="8" text-anchor="end" fill="#000" >0</text>
<line x1="270.10" y1="463.59" x2="272.60" y2="463.59" stroke="#000" stroke-width="1.1" />
<text x="270.30" y="466.49" font-size="8" text-anchor="end" fill="#000" >5</text>
<line x1="270.10" y1="445.87" x2="272.60" y2="445.87" stroke="#000" stroke-width="1.1" />
<text x="270.30" y="448.77" font-size="8" text-anchor="end" fill="#000" >10</text>
<line x1="270.10" y1="428.16" x2="272.60" y2="428.16" stroke="#000" stroke-width="1.1" />
<text x="270.30" y="431.06" font-size="8" text-anchor="end" fill="#000" >15</text>
<line x1="270.10" y1="410.44" x2="272.60" y2="410.44" stroke="#000" stroke-width="1.1" />
<text x="270.30" y="413.34" font-size="8" text-anchor="end" fill="#000" >20</text>
<line x1="270.10" y1="392.73" x2="272.60" y2="392.73" stroke="#000" stroke-width="1.1" />
<text x="270.30" y="395.62" font-size="8" text-anchor="end" fill="#000" >25</text>
<line x1="270.10" y1="375.01" x2="272.60" y2="375.01" stroke="#000" stroke-width="1.1" />
<text x="270.30" y="377.91" font-size="8" text-anchor="end" fill="#000" >30</text>
<line x1="270.10" y1="357.30" x2="272.60" y2="357.30" stroke="#000" stroke-width="1.1" />
<text x="270.30" y="360.19" font-size="8" text-anchor="end" fill="#000" >35</text>
<line x1="272.10" y1="481.50" x2="272.10" y2="484.50" stroke="#000" stroke-width="1.1" />
<text x="272.10" y="492.30" font-size="8" text-anchor="middle" fill="#000" >0</text>
<line x1="303.10" y1="481.50" x2="303.10" y2="484.50" stroke="#000" stroke-width="1.1" />
<text x="303.10" y="492.30" font-size="8" text-anchor="middle" fill="#000" >10000</text>
<line x1="334.10" y1="481.50" x2="334.10" y2="484.50" stroke="#000" stroke-width="1.1" />
<text x="334.10" y="492.30" font-size="8" text-anchor="middle" fill="#000" >20000</text>
<line x1="365.10" y1="481.50" x2="365.10" y2="484.50" stroke="#000" stroke-width="1.1" />
<text x="365.10" y="492.30" font-size="8" text-anchor="middle" fill="#000" >30000</text>
<line x1="396.10" y1="481.50" x2="396.10" y2="484.50" stroke="#000" stroke-width="1.1" />
<text x="396.10" y="492.30" font-size="8" text-anchor="middle" fill="#000" >40000</text>
<line x1="427.10" y1="481.50" x2="427.10" y2="484.50" stroke="#000" stroke-width="1.1" />
<text x="427.10" y="492.30" font-size="8" text-anchor="middle" fill="#000" >50000</text>
<rect x="349.30" y="448.20" width="76.90" height="32.60" fill="#000" />
<rect x="349.30" y="449.20" width="76.90" height="2.10" fill="#00FF00" />
<rect x="349.30" y="452.78" width="76.90" height="2.10" fill="#00FF00" />
<rect x="349.30" y="456.36" width="76.90" height="2.10" fill="#00FF00" />
<rect x="349.30" y="459.94" width="76.90" height="2.10" fill="#00FF00" />
<rect x="349.30" y="463.52" width="76.90" height="2.10" fill="#00FF00" />
<rect x="349.30" y="467.10" width="76.90" height="2.10" fill="#00FF00" />
<rect x="349.30" y="470.68" width="76.90" height="2.10" fill="#00FF00" />
<rect x="349.30" y="474.26" width="76.90" height="2.10" fill="#00FF00" />
<rect x="349.30" y="477.84" width="76.90" height="2.10" fill="#00FF00" />
<rect x="402.00" y="473.80" width="19.40" height="3.60" fill="#fff" />
<polyline points="272.80,468.00 273.00,440.00 273.50,420.00 274.00,409.80 276.70,404.60 280.70,401.40 285.40,399.00 290.70,397.20 298.60,395.80 306.50,394.60 315.20,393.50 325.20,392.30 337.00,391.10 350.20,390.60 364.10,390.10 379.60,389.70 396.60,389.20 414.30,389.00 426.00,388.70" fill="none" stroke="#000" stroke-width="1.6" stroke-linejoin="round" />
<rect x="275.30" y="403.20" width="2.8" height="2.8" fill="#000"/>
<rect x="279.30" y="400.00" width="2.8" height="2.8" fill="#000"/>
<rect x="284.00" y="397.60" width="2.8" height="2.8" fill="#000"/>
<rect x="289.30" y="395.80" width="2.8" height="2.8" fill="#000"/>
<rect x="297.20" y="394.40" width="2.8" height="2.8" fill="#000"/>
<rect x="305.10" y="393.20" width="2.8" height="2.8" fill="#000"/>
<rect x="313.80" y="392.10" width="2.8" height="2.8" fill="#000"/>
<rect x="323.80" y="390.90" width="2.8" height="2.8" fill="#000"/>
<rect x="335.60" y="389.70" width="2.8" height="2.8" fill="#000"/>
<rect x="348.80" y="389.20" width="2.8" height="2.8" fill="#000"/>
<rect x="362.70" y="388.70" width="2.8" height="2.8" fill="#000"/>
<rect x="378.20" y="388.30" width="2.8" height="2.8" fill="#000"/>
<rect x="395.20" y="387.80" width="2.8" height="2.8" fill="#000"/>
<rect x="412.90" y="387.60" width="2.8" height="2.8" fill="#000"/>
<polyline points="272.70,470.00 273.20,430.00 274.00,415.00 276.00,408.00 279.00,404.00 283.00,401.50 288.50,399.30 296.00,397.50 305.00,396.00 314.00,395.00 320.00,394.60 330.60,393.70 343.60,393.00 357.70,392.30 373.70,391.80 390.20,391.10 408.40,390.60 426.00,390.10" fill="none" stroke="#00FF00" stroke-width="2.2" stroke-linejoin="round" />
<rect x="274.60" y="406.60" width="2.8" height="2.8" fill="#00FF00"/>
<rect x="277.60" y="402.60" width="2.8" height="2.8" fill="#00FF00"/>
<rect x="281.60" y="400.10" width="2.8" height="2.8" fill="#00FF00"/>
<rect x="287.10" y="397.90" width="2.8" height="2.8" fill="#00FF00"/>
<rect x="294.60" y="396.10" width="2.8" height="2.8" fill="#00FF00"/>
<rect x="303.60" y="394.60" width="2.8" height="2.8" fill="#00FF00"/>
<rect x="312.60" y="393.60" width="2.8" height="2.8" fill="#00FF00"/>
<rect x="318.60" y="393.20" width="2.8" height="2.8" fill="#00FF00"/>
<rect x="329.20" y="392.30" width="2.8" height="2.8" fill="#00FF00"/>
<rect x="342.20" y="391.60" width="2.8" height="2.8" fill="#00FF00"/>
<rect x="356.30" y="390.90" width="2.8" height="2.8" fill="#00FF00"/>
<rect x="372.30" y="390.40" width="2.8" height="2.8" fill="#00FF00"/>
<rect x="388.80" y="389.70" width="2.8" height="2.8" fill="#00FF00"/>
<rect x="407.00" y="389.20" width="2.8" height="2.8" fill="#00FF00"/>
<line x1="281.00" y1="362.00" x2="297.00" y2="362.00" stroke="#000" stroke-width="1.7" />
<rect x="287.40" y="360.40" width="3.2" height="3.2" fill="#000"/>
<line x1="281.00" y1="369.50" x2="297.00" y2="369.50" stroke="#00FF00" stroke-width="1.7" />
<rect x="287.40" y="367.90" width="3.2" height="3.2" fill="#00FF00"/>
<text x="303.80" y="364.90" font-size="8.1" text-anchor="start" fill="#000" >Pristine</text>
<text x="303.80" y="372.40" font-size="8.1" text-anchor="start" fill="#00FF00" >Crosslinked</text>
<text x="229.60" y="371.50" font-size="25" text-anchor="start" fill="#000" >g</text>
<text x="349.70" y="505.80" font-size="10.6" text-anchor="middle">Luminance (Cd m<tspan dy="-4.77" font-size="9.01">-2</tspan><tspan dy="4.77">)</tspan></text>
<text x="256.80" y="419.10" font-size="10.5" text-anchor="middle" fill="#000" transform="rotate(-90 256.8 419.1)" >EQE (%)</text>
<rect x="500.90" y="357.30" width="154.10" height="124.20" fill="none" stroke="#000" stroke-width="1.6"/>
<line x1="498.40" y1="481.30" x2="500.90" y2="481.30" stroke="#000" stroke-width="1.1" />
<text x="498.60" y="484.20" font-size="8" text-anchor="end" fill="#000" >0</text>
<line x1="498.40" y1="460.63" x2="500.90" y2="460.63" stroke="#000" stroke-width="1.1" />
<text x="498.60" y="463.53" font-size="8" text-anchor="end" fill="#000" >5</text>
<line x1="498.40" y1="439.97" x2="500.90" y2="439.97" stroke="#000" stroke-width="1.1" />
<text x="498.60" y="442.87" font-size="8" text-anchor="end" fill="#000" >10</text>
<line x1="498.40" y1="419.31" x2="500.90" y2="419.31" stroke="#000" stroke-width="1.1" />
<text x="498.60" y="422.20" font-size="8" text-anchor="end" fill="#000" >15</text>
<line x1="498.40" y1="398.64" x2="500.90" y2="398.64" stroke="#000" stroke-width="1.1" />
<text x="498.60" y="401.54" font-size="8" text-anchor="end" fill="#000" >20</text>
<line x1="498.40" y1="377.98" x2="500.90" y2="377.98" stroke="#000" stroke-width="1.1" />
<text x="498.60" y="380.88" font-size="8" text-anchor="end" fill="#000" >25</text>
<line x1="498.40" y1="357.31" x2="500.90" y2="357.31" stroke="#000" stroke-width="1.1" />
<text x="498.60" y="360.21" font-size="8" text-anchor="end" fill="#000" >30</text>
<line x1="500.80" y1="481.50" x2="500.80" y2="484.50" stroke="#000" stroke-width="1.1" />
<text x="500.80" y="492.30" font-size="8" text-anchor="middle" fill="#000" >0</text>
<line x1="552.00" y1="481.50" x2="552.00" y2="484.50" stroke="#000" stroke-width="1.1" />
<text x="552.00" y="492.30" font-size="8" text-anchor="middle" fill="#000" >1000</text>
<line x1="603.20" y1="481.50" x2="603.20" y2="484.50" stroke="#000" stroke-width="1.1" />
<text x="603.20" y="492.30" font-size="8" text-anchor="middle" fill="#000" >2000</text>
<line x1="654.40" y1="481.50" x2="654.40" y2="484.50" stroke="#000" stroke-width="1.1" />
<text x="654.40" y="492.30" font-size="8" text-anchor="middle" fill="#000" >3000</text>
<rect x="575.80" y="448.20" width="77.50" height="32.60" fill="#000" />
<rect x="575.80" y="449.10" width="77.50" height="2.30" fill="#0606E0" />
<rect x="575.80" y="452.64" width="77.50" height="2.30" fill="#0606E0" />
<rect x="575.80" y="456.18" width="77.50" height="2.30" fill="#0606E0" />
<rect x="575.80" y="459.72" width="77.50" height="2.30" fill="#0606E0" />
<rect x="575.80" y="463.26" width="77.50" height="2.30" fill="#0606E0" />
<rect x="575.80" y="466.80" width="77.50" height="2.30" fill="#0606E0" />
<rect x="575.80" y="470.34" width="77.50" height="2.30" fill="#0606E0" />
<rect x="575.80" y="473.88" width="77.50" height="2.30" fill="#0606E0" />
<rect x="575.80" y="477.42" width="77.50" height="2.30" fill="#0606E0" />
<rect x="628.80" y="474.00" width="20.00" height="3.80" fill="#fff" />
<polyline points="500.90,450.00 500.90,420.00 500.90,404.60 503.20,399.30 507.60,396.20 512.80,394.60 520.70,393.20 530.30,392.30 540.80,391.40 555.00,391.30 571.50,391.10 590.80,390.40 612.80,390.40 636.30,390.40 654.00,390.10" fill="none" stroke="#0000FF" stroke-width="1.5" stroke-linejoin="round" />
<rect x="501.90" y="398.00" width="2.6" height="2.6" fill="#0000FF"/>
<rect x="506.30" y="394.90" width="2.6" height="2.6" fill="#0000FF"/>
<rect x="511.50" y="393.30" width="2.6" height="2.6" fill="#0000FF"/>
<rect x="519.40" y="391.90" width="2.6" height="2.6" fill="#0000FF"/>
<rect x="529.00" y="391.00" width="2.6" height="2.6" fill="#0000FF"/>
<rect x="539.50" y="390.10" width="2.6" height="2.6" fill="#0000FF"/>
<rect x="553.70" y="390.00" width="2.6" height="2.6" fill="#0000FF"/>
<rect x="570.20" y="389.80" width="2.6" height="2.6" fill="#0000FF"/>
<rect x="589.50" y="389.10" width="2.6" height="2.6" fill="#0000FF"/>
<rect x="611.50" y="389.10" width="2.6" height="2.6" fill="#0000FF"/>
<rect x="635.00" y="389.10" width="2.6" height="2.6" fill="#0000FF"/>
<polyline points="501.00,440.00 501.00,420.00 500.90,402.80 502.30,400.20 505.80,397.60 511.10,395.80 518.10,394.60 525.10,394.10 533.80,392.30 546.10,390.90 560.90,389.40 578.60,388.70 599.80,387.50 622.20,387.30 647.60,387.10 654.00,387.10" fill="none" stroke="#000" stroke-width="1.4" stroke-linejoin="round" />
<rect x="504.40" y="396.20" width="2.8" height="2.8" fill="#000"/>
<rect x="509.70" y="394.40" width="2.8" height="2.8" fill="#000"/>
<rect x="516.70" y="393.20" width="2.8" height="2.8" fill="#000"/>
<rect x="523.70" y="392.70" width="2.8" height="2.8" fill="#000"/>
<rect x="532.40" y="390.90" width="2.8" height="2.8" fill="#000"/>
<rect x="544.70" y="389.50" width="2.8" height="2.8" fill="#000"/>
<rect x="559.50" y="388.00" width="2.8" height="2.8" fill="#000"/>
<rect x="577.20" y="387.30" width="2.8" height="2.8" fill="#000"/>
<rect x="598.40" y="386.10" width="2.8" height="2.8" fill="#000"/>
<rect x="620.80" y="385.90" width="2.8" height="2.8" fill="#000"/>
<rect x="646.20" y="385.70" width="2.8" height="2.8" fill="#000"/>
<line x1="509.30" y1="362.90" x2="525.30" y2="362.90" stroke="#000" stroke-width="1.7" />
<rect x="515.70" y="361.30" width="3.2" height="3.2" fill="#000"/>
<line x1="509.30" y1="370.40" x2="525.30" y2="370.40" stroke="#0000FF" stroke-width="1.7" />
<rect x="515.70" y="368.80" width="3.2" height="3.2" fill="#0000FF"/>
<text x="530.70" y="365.80" font-size="8.1" text-anchor="start" fill="#000" >Pristine</text>
<text x="530.70" y="373.30" font-size="8.1" text-anchor="start" fill="#0000FF" >Crosslinked</text>
<text x="461.60" y="375.00" font-size="25" text-anchor="start" fill="#000" >h</text>
<text x="577.60" y="503.80" font-size="10.6" text-anchor="middle">Luminance (Cd m<tspan dy="-4.77" font-size="9.01">-2</tspan><tspan dy="4.77">)</tspan></text>
<text x="484.00" y="419.10" font-size="10.5" text-anchor="middle" fill="#000" transform="rotate(-90 484.0 419.1)" >EQE (%)</text>
</svg></body></html>
